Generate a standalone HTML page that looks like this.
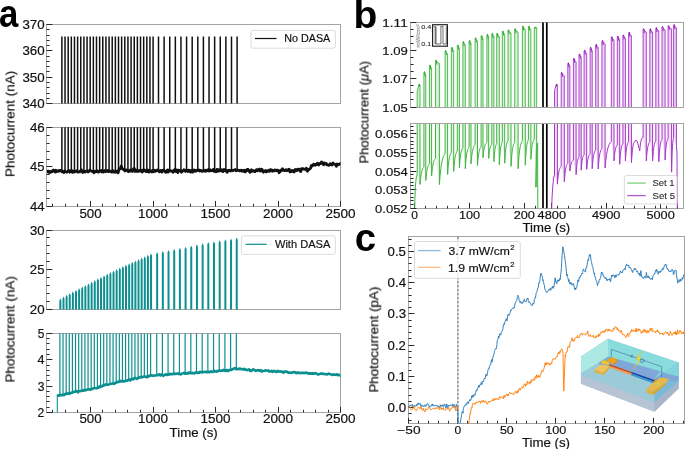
<!DOCTYPE html>
<html><head><meta charset="utf-8"><style>html,body{margin:0;padding:0;background:#fff;overflow:hidden}svg{display:block}svg text{will-change:transform}text{font-family:"Liberation Sans", sans-serif}</style></head>
<body><svg width="685" height="449" viewBox="0 0 685 449">
<rect x="46.5" y="24.5" width="294" height="79" fill="none" stroke="#a4a4a4" stroke-width="1"/>
<rect x="46.5" y="127.5" width="294" height="79" fill="none" stroke="#a4a4a4" stroke-width="1"/>
<rect x="46.5" y="230.5" width="294" height="79" fill="none" stroke="#a4a4a4" stroke-width="1"/>
<rect x="46.5" y="333.5" width="294" height="79" fill="none" stroke="#a4a4a4" stroke-width="1"/>
<path d="M46.5 103.5h5.9M46.5 77.5h5.9M46.5 50.5h5.9M46.5 24.5h5.9M46.5 98.5h3.1M46.5 93.5h3.1M46.5 87.5h3.1M46.5 82.5h3.1M46.5 71.5h3.1M46.5 66.5h3.1M46.5 61.5h3.1M46.5 56.5h3.1M46.5 45.5h3.1M46.5 40.5h3.1M46.5 35.5h3.1M46.5 29.5h3.1" stroke="#2a2a2a" stroke-width="1" fill="none"/>
<text x="22.43" y="108.1" font-size="11.9" fill="#111" stroke="#111" stroke-width="0.18" textLength="22.19" lengthAdjust="spacingAndGlyphs" >340</text>
<text x="22.43" y="81.73" font-size="11.9" fill="#111" stroke="#111" stroke-width="0.18" textLength="22.19" lengthAdjust="spacingAndGlyphs" >350</text>
<text x="22.43" y="55.37" font-size="11.9" fill="#111" stroke="#111" stroke-width="0.18" textLength="22.19" lengthAdjust="spacingAndGlyphs" >360</text>
<text x="22.43" y="29" font-size="11.9" fill="#111" stroke="#111" stroke-width="0.18" textLength="22.19" lengthAdjust="spacingAndGlyphs" >370</text>
<path d="M46.5 206.5h5.9M46.5 166.5h5.9M46.5 127.5h5.9M46.5 198.5h3.1M46.5 190.5h3.1M46.5 182.5h3.1M46.5 174.5h3.1M46.5 159.5h3.1M46.5 151.5h3.1M46.5 143.5h3.1M46.5 135.5h3.1" stroke="#2a2a2a" stroke-width="1" fill="none"/>
<text x="29.96" y="211.1" font-size="11.9" fill="#111" stroke="#111" stroke-width="0.18" textLength="14.68" lengthAdjust="spacingAndGlyphs" >44</text>
<text x="29.96" y="171.45" font-size="11.9" fill="#111" stroke="#111" stroke-width="0.18" textLength="14.47" lengthAdjust="spacingAndGlyphs" >45</text>
<text x="29.96" y="131.8" font-size="11.9" fill="#111" stroke="#111" stroke-width="0.18" textLength="14.79" lengthAdjust="spacingAndGlyphs" >46</text>
<path d="M46.5 309.5h5.9M46.5 269.5h5.9M46.5 230.5h5.9M46.5 301.5h3.1M46.5 293.5h3.1M46.5 285.5h3.1M46.5 277.5h3.1M46.5 261.5h3.1M46.5 253.5h3.1M46.5 245.5h3.1M46.5 237.5h3.1" stroke="#2a2a2a" stroke-width="1" fill="none"/>
<text x="29.86" y="314" font-size="11.9" fill="#111" stroke="#111" stroke-width="0.18" textLength="14.79" lengthAdjust="spacingAndGlyphs" >20</text>
<text x="29.87" y="274.25" font-size="11.9" fill="#111" stroke="#111" stroke-width="0.18" textLength="14.57" lengthAdjust="spacingAndGlyphs" >25</text>
<text x="30.06" y="234.5" font-size="11.9" fill="#111" stroke="#111" stroke-width="0.18" textLength="14.58" lengthAdjust="spacingAndGlyphs" >30</text>
<path d="M46.5 412.5h5.9M46.5 386.5h5.9M46.5 359.5h5.9M46.5 333.5h5.9M46.5 407.5h3.1M46.5 401.5h3.1M46.5 396.5h3.1M46.5 391.5h3.1M46.5 380.5h3.1M46.5 375.5h3.1M46.5 370.5h3.1M46.5 365.5h3.1M46.5 354.5h3.1M46.5 349.5h3.1M46.5 343.5h3.1M46.5 338.5h3.1" stroke="#2a2a2a" stroke-width="1" fill="none"/>
<text x="37.54" y="416.9" font-size="11.9" fill="#111" stroke="#111" stroke-width="0.18" textLength="6.77" lengthAdjust="spacingAndGlyphs" >2</text>
<text x="37.72" y="390.57" font-size="11.9" fill="#111" stroke="#111" stroke-width="0.18" textLength="6.73" lengthAdjust="spacingAndGlyphs" >3</text>
<text x="37.59" y="364.23" font-size="11.9" fill="#111" stroke="#111" stroke-width="0.18" textLength="6.99" lengthAdjust="spacingAndGlyphs" >4</text>
<text x="37.73" y="337.9" font-size="11.9" fill="#111" stroke="#111" stroke-width="0.18" textLength="6.63" lengthAdjust="spacingAndGlyphs" >5</text>
<path d="M90.5 206.5v-5.6M153.5 206.5v-5.6M215.5 206.5v-5.6M278.5 206.5v-5.6M340.5 206.5v-5.6M52.5 206.5v-2.7M65.5 206.5v-2.7M77.5 206.5v-2.7M102.5 206.5v-2.7M115.5 206.5v-2.7M127.5 206.5v-2.7M140.5 206.5v-2.7M165.5 206.5v-2.7M178.5 206.5v-2.7M190.5 206.5v-2.7M203.5 206.5v-2.7M228.5 206.5v-2.7M240.5 206.5v-2.7M253.5 206.5v-2.7M265.5 206.5v-2.7M290.5 206.5v-2.7M303.5 206.5v-2.7M315.5 206.5v-2.7M328.5 206.5v-2.7" stroke="#2a2a2a" stroke-width="1" fill="none"/>
<text x="79.44" y="217.6" font-size="11.9" fill="#111" stroke="#111" stroke-width="0.18" textLength="22.19" lengthAdjust="spacingAndGlyphs" >500</text>
<text x="138.07" y="217.6" font-size="11.9" fill="#111" stroke="#111" stroke-width="0.18" textLength="29.94" lengthAdjust="spacingAndGlyphs" >1000</text>
<text x="200.6" y="217.6" font-size="11.9" fill="#111" stroke="#111" stroke-width="0.18" textLength="29.94" lengthAdjust="spacingAndGlyphs" >1500</text>
<text x="263.02" y="217.6" font-size="11.9" fill="#111" stroke="#111" stroke-width="0.18" textLength="30.05" lengthAdjust="spacingAndGlyphs" >2000</text>
<text x="325.55" y="217.6" font-size="11.9" fill="#111" stroke="#111" stroke-width="0.18" textLength="30.05" lengthAdjust="spacingAndGlyphs" >2500</text>
<path d="M90.5 412.5v-5.6M153.5 412.5v-5.6M215.5 412.5v-5.6M278.5 412.5v-5.6M340.5 412.5v-5.6M52.5 412.5v-2.7M65.5 412.5v-2.7M77.5 412.5v-2.7M102.5 412.5v-2.7M115.5 412.5v-2.7M127.5 412.5v-2.7M140.5 412.5v-2.7M165.5 412.5v-2.7M178.5 412.5v-2.7M190.5 412.5v-2.7M203.5 412.5v-2.7M228.5 412.5v-2.7M240.5 412.5v-2.7M253.5 412.5v-2.7M265.5 412.5v-2.7M290.5 412.5v-2.7M303.5 412.5v-2.7M315.5 412.5v-2.7M328.5 412.5v-2.7" stroke="#2a2a2a" stroke-width="1" fill="none"/>
<text x="79.44" y="423.4" font-size="11.9" fill="#111" stroke="#111" stroke-width="0.18" textLength="22.19" lengthAdjust="spacingAndGlyphs" >500</text>
<text x="138.07" y="423.4" font-size="11.9" fill="#111" stroke="#111" stroke-width="0.18" textLength="29.94" lengthAdjust="spacingAndGlyphs" >1000</text>
<text x="200.6" y="423.4" font-size="11.9" fill="#111" stroke="#111" stroke-width="0.18" textLength="29.94" lengthAdjust="spacingAndGlyphs" >1500</text>
<text x="263.02" y="423.4" font-size="11.9" fill="#111" stroke="#111" stroke-width="0.18" textLength="30.05" lengthAdjust="spacingAndGlyphs" >2000</text>
<text x="325.55" y="423.4" font-size="11.9" fill="#111" stroke="#111" stroke-width="0.18" textLength="30.05" lengthAdjust="spacingAndGlyphs" >2500</text>
<rect x="410.5" y="22.5" width="273" height="85" fill="none" stroke="#a4a4a4" stroke-width="1"/>
<rect x="410.5" y="123.5" width="273" height="85" fill="none" stroke="#a4a4a4" stroke-width="1"/>
<path d="M410.5 107.5h5.9M410.5 78.5h5.9M410.5 50.5h5.9M410.5 22.5h5.9M410.5 99.5h3.1M410.5 92.5h3.1M410.5 85.5h3.1M410.5 71.5h3.1M410.5 64.5h3.1M410.5 57.5h3.1M410.5 43.5h3.1M410.5 36.5h3.1M410.5 29.5h3.1" stroke="#2a2a2a" stroke-width="1" fill="none"/>
<text x="382.36" y="111.5" font-size="11.54" fill="#111" stroke="#111" stroke-width="0.18" textLength="25.26" lengthAdjust="spacingAndGlyphs" >1.05</text>
<text x="382.36" y="83.3" font-size="11.54" fill="#111" stroke="#111" stroke-width="0.18" textLength="25.4" lengthAdjust="spacingAndGlyphs" >1.07</text>
<text x="382.35" y="55.1" font-size="11.54" fill="#111" stroke="#111" stroke-width="0.18" textLength="25.52" lengthAdjust="spacingAndGlyphs" >1.09</text>
<text x="382.32" y="26.9" font-size="11.54" fill="#111" stroke="#111" stroke-width="0.18" textLength="25.38" lengthAdjust="spacingAndGlyphs" >1.11</text>
<path d="M410.5 208.5h5.9M410.5 189.5h5.9M410.5 171.5h5.9M410.5 152.5h5.9M410.5 133.5h5.9M410.5 204.5h3.1M410.5 200.5h3.1M410.5 197.5h3.1M410.5 193.5h3.1M410.5 185.5h3.1M410.5 182.5h3.1M410.5 178.5h3.1M410.5 174.5h3.1M410.5 167.5h3.1M410.5 163.5h3.1M410.5 159.5h3.1M410.5 156.5h3.1M410.5 148.5h3.1M410.5 144.5h3.1M410.5 141.5h3.1M410.5 137.5h3.1M410.5 130.5h3.1M410.5 126.5h3.1" stroke="#2a2a2a" stroke-width="1" fill="none"/>
<text x="375.13" y="212.7" font-size="11.54" fill="#111" stroke="#111" stroke-width="0.18" textLength="32.46" lengthAdjust="spacingAndGlyphs" >0.052</text>
<text x="375.12" y="194.1" font-size="11.54" fill="#111" stroke="#111" stroke-width="0.18" textLength="32.6" lengthAdjust="spacingAndGlyphs" >0.053</text>
<text x="375.12" y="175.5" font-size="11.54" fill="#111" stroke="#111" stroke-width="0.18" textLength="32.7" lengthAdjust="spacingAndGlyphs" >0.054</text>
<text x="375.12" y="156.9" font-size="11.54" fill="#111" stroke="#111" stroke-width="0.18" textLength="32.5" lengthAdjust="spacingAndGlyphs" >0.055</text>
<text x="375.12" y="138.3" font-size="11.54" fill="#111" stroke="#111" stroke-width="0.18" textLength="32.81" lengthAdjust="spacingAndGlyphs" >0.056</text>
<path d="M414.5 208.5v-5.6M469.5 208.5v-5.6M524.5 208.5v-5.6M551.5 208.5v-5.6M606.5 208.5v-5.6M660.5 208.5v-5.6M425.5 208.5v-2.7M436.5 208.5v-2.7M447.5 208.5v-2.7M458.5 208.5v-2.7M480.5 208.5v-2.7M491.5 208.5v-2.7M502.5 208.5v-2.7M513.5 208.5v-2.7M535.5 208.5v-2.7M546.5 208.5v-2.7M557.5 208.5v-2.7M568.5 208.5v-2.7M579.5 208.5v-2.7M590.5 208.5v-2.7M601.5 208.5v-2.7M612.5 208.5v-2.7M623.5 208.5v-2.7M634.5 208.5v-2.7M644.5 208.5v-2.7M655.5 208.5v-2.7M666.5 208.5v-2.7M677.5 208.5v-2.7" stroke="#2a2a2a" stroke-width="1" fill="none"/>
<text x="411.25" y="218.9" font-size="11.54" fill="#111" stroke="#111" stroke-width="0.18" textLength="6.68" lengthAdjust="spacingAndGlyphs" >0</text>
<text x="458.92" y="218.9" font-size="11.54" fill="#111" stroke="#111" stroke-width="0.18" textLength="21.1" lengthAdjust="spacingAndGlyphs" >100</text>
<text x="513.65" y="218.9" font-size="11.54" fill="#111" stroke="#111" stroke-width="0.18" textLength="21.21" lengthAdjust="spacingAndGlyphs" >200</text>
<text x="537.64" y="218.9" font-size="11.54" fill="#111" stroke="#111" stroke-width="0.18" textLength="28.37" lengthAdjust="spacingAndGlyphs" >4800</text>
<text x="591.99" y="218.9" font-size="11.54" fill="#111" stroke="#111" stroke-width="0.18" textLength="28.37" lengthAdjust="spacingAndGlyphs" >4900</text>
<text x="646.43" y="218.9" font-size="11.54" fill="#111" stroke="#111" stroke-width="0.18" textLength="28.28" lengthAdjust="spacingAndGlyphs" >5000</text>
<rect x="408.5" y="236.5" width="276" height="187" fill="none" stroke="#a4a4a4" stroke-width="1"/>
<path d="M408.5 407.5h5.9M408.5 376.5h5.9M408.5 345.5h5.9M408.5 313.5h5.9M408.5 282.5h5.9M408.5 251.5h5.9M408.5 420.5h3.1M408.5 413.5h3.1M408.5 401.5h3.1M408.5 395.5h3.1M408.5 388.5h3.1M408.5 382.5h3.1M408.5 370.5h3.1M408.5 363.5h3.1M408.5 357.5h3.1M408.5 351.5h3.1M408.5 338.5h3.1M408.5 332.5h3.1M408.5 326.5h3.1M408.5 320.5h3.1M408.5 307.5h3.1M408.5 301.5h3.1M408.5 295.5h3.1M408.5 288.5h3.1M408.5 276.5h3.1M408.5 270.5h3.1M408.5 263.5h3.1M408.5 257.5h3.1M408.5 245.5h3.1M408.5 239.5h3.1" stroke="#2a2a2a" stroke-width="1" fill="none"/>
<text x="387.59" y="412.2" font-size="11.9" fill="#111" stroke="#111" stroke-width="0.18" textLength="18.53" lengthAdjust="spacingAndGlyphs" >0.0</text>
<text x="387.6" y="380.96" font-size="11.9" fill="#111" stroke="#111" stroke-width="0.18" textLength="18.35" lengthAdjust="spacingAndGlyphs" >0.1</text>
<text x="387.6" y="349.72" font-size="11.9" fill="#111" stroke="#111" stroke-width="0.18" textLength="18.26" lengthAdjust="spacingAndGlyphs" >0.2</text>
<text x="387.6" y="318.48" font-size="11.9" fill="#111" stroke="#111" stroke-width="0.18" textLength="18.41" lengthAdjust="spacingAndGlyphs" >0.3</text>
<text x="387.59" y="287.24" font-size="11.9" fill="#111" stroke="#111" stroke-width="0.18" textLength="18.51" lengthAdjust="spacingAndGlyphs" >0.4</text>
<text x="387.6" y="256" font-size="11.9" fill="#111" stroke="#111" stroke-width="0.18" textLength="18.31" lengthAdjust="spacingAndGlyphs" >0.5</text>
<path d="M408.5 423.5v-5.6M457.5 423.5v-5.6M506.5 423.5v-5.6M555.5 423.5v-5.6M604.5 423.5v-5.6M653.5 423.5v-5.6M418.5 423.5v-2.7M428.5 423.5v-2.7M438.5 423.5v-2.7M448.5 423.5v-2.7M467.5 423.5v-2.7M477.5 423.5v-2.7M487.5 423.5v-2.7M497.5 423.5v-2.7M516.5 423.5v-2.7M526.5 423.5v-2.7M536.5 423.5v-2.7M546.5 423.5v-2.7M565.5 423.5v-2.7M575.5 423.5v-2.7M585.5 423.5v-2.7M595.5 423.5v-2.7M614.5 423.5v-2.7M624.5 423.5v-2.7M634.5 423.5v-2.7M644.5 423.5v-2.7M663.5 423.5v-2.7M673.5 423.5v-2.7M683.5 423.5v-2.7" stroke="#2a2a2a" stroke-width="1" fill="none"/>
<text x="397.33" y="433.7" font-size="11.54" fill="#111" stroke="#111" stroke-width="0.18" textLength="23.24" lengthAdjust="spacingAndGlyphs" >−50</text>
<text x="454.45" y="433.7" font-size="11.54" fill="#111" stroke="#111" stroke-width="0.18" textLength="6.68" lengthAdjust="spacingAndGlyphs" >0</text>
<text x="499.96" y="433.7" font-size="11.54" fill="#111" stroke="#111" stroke-width="0.18" textLength="13.82" lengthAdjust="spacingAndGlyphs" >50</text>
<text x="545.27" y="433.7" font-size="11.54" fill="#111" stroke="#111" stroke-width="0.18" textLength="21.1" lengthAdjust="spacingAndGlyphs" >100</text>
<text x="594.27" y="433.7" font-size="11.54" fill="#111" stroke="#111" stroke-width="0.18" textLength="21.1" lengthAdjust="spacingAndGlyphs" >150</text>
<text x="643.15" y="433.7" font-size="11.54" fill="#111" stroke="#111" stroke-width="0.18" textLength="21.21" lengthAdjust="spacingAndGlyphs" >200</text>
<text transform="translate(14.5,176.1) rotate(-90)" x="-1.11" y="0" font-size="12.3" fill="#111" stroke="#111" stroke-width="0.18" textLength="106.46" lengthAdjust="spacingAndGlyphs">Photocurrent (nA)</text>
<text transform="translate(14.5,381.6) rotate(-90)" x="-1.11" y="0" font-size="12.3" fill="#111" stroke="#111" stroke-width="0.18" textLength="106.66" lengthAdjust="spacingAndGlyphs">Photocurrent (nA)</text>
<text transform="translate(368.5,162.6) rotate(-90)" x="-1.07" y="0" font-size="12.3" fill="#111" stroke="#111" stroke-width="0.18" textLength="102.79" lengthAdjust="spacingAndGlyphs">Photocurrent (<tspan font-style="italic">μ</tspan>A)</text>
<text transform="translate(378.3,391.6) rotate(-90)" x="-1.11" y="0" font-size="12.3" fill="#111" stroke="#111" stroke-width="0.18" textLength="106.15" lengthAdjust="spacingAndGlyphs">Photocurrent (pA)</text>
<text x="169.6" y="436.9" font-size="12.3" fill="#111" stroke="#111" stroke-width="0.18" textLength="48.15" lengthAdjust="spacingAndGlyphs" >Time (s)</text>
<text x="522.6" y="232.1" font-size="12.3" fill="#111" stroke="#111" stroke-width="0.18" textLength="47.64" lengthAdjust="spacingAndGlyphs" >Time (s)</text>
<text x="521.9" y="447.3" font-size="12.3" fill="#111" stroke="#111" stroke-width="0.18" textLength="48.15" lengthAdjust="spacingAndGlyphs" >Time (s)</text>
<text x="-1.04" y="26.8" font-size="39.5" font-weight="bold" fill="#000" stroke="#000" stroke-width="0" textLength="19.32" lengthAdjust="spacingAndGlyphs" >a</text>
<text x="353.46" y="27.7" font-size="38.5" font-weight="bold" fill="#000" stroke="#000" stroke-width="0" textLength="23.83" lengthAdjust="spacingAndGlyphs" >b</text>
<text x="354.77" y="251" font-size="38.5" font-weight="bold" fill="#000" stroke="#000" stroke-width="0" textLength="21.33" lengthAdjust="spacingAndGlyphs" >c</text>
<defs>
<clipPath id="ca0"><rect x="46.7" y="24.5" width="293.90000000000003" height="79.1"/></clipPath>
<clipPath id="ca1"><rect x="46.7" y="127.3" width="293.90000000000003" height="79.3"/></clipPath>
<clipPath id="ca2"><rect x="46.7" y="230.0" width="293.90000000000003" height="79.5"/></clipPath>
<clipPath id="ca3"><rect x="46.7" y="333.4" width="293.90000000000003" height="79.0"/></clipPath>
<clipPath id="cb1"><rect x="410.1" y="22.4" width="273.1" height="84.6"/></clipPath>
<clipPath id="cb2"><rect x="410.1" y="123.9" width="273.1" height="84.19999999999999"/></clipPath>
<clipPath id="cc"><rect x="408.4" y="236.2" width="275.70000000000005" height="187.10000000000002"/></clipPath>
</defs>
<path d="M61.90 110V36.4M65.04 110V36.4M68.19 110V36.4M71.33 110V36.4M74.48 110V36.4M77.62 110V36.4M80.77 110V36.4M83.91 110V36.4M87.06 110V36.4M90.20 110V36.4M93.35 110V36.4M96.49 110V36.4M99.64 110V36.4M102.78 110V36.4M105.93 110V36.4M109.07 110V36.4M112.22 110V36.4M115.36 110V36.4M118.51 110V36.4M121.65 110V36.4M124.80 110V36.4M127.94 110V36.4M131.09 110V36.4M134.23 110V36.4M137.38 110V36.4M140.52 110V36.4M143.67 110V36.4M146.81 110V36.4M149.96 110V36.4M153.10 110V36.4M158.50 110V36.4M164.11 110V36.4M169.73 110V36.4M175.34 110V36.4M180.96 110V36.4M186.57 110V36.4M192.19 110V36.4M197.80 110V36.4M203.41 110V36.4M209.03 110V36.4M214.64 110V36.4M220.26 110V36.4M225.87 110V36.4M231.49 110V36.4M237.10 110V36.4" stroke="#111111" stroke-width="1.5" fill="none" clip-path="url(#ca0)"/>
<path d="M46.70 171.99 L47.05 172.00 L47.40 171.56 L47.75 171.15 L48.10 171.06 L48.45 171.19 L48.80 172.04 L49.15 172.57 L49.50 171.82 L49.85 171.53 L50.20 172.11 L50.55 172.29 L50.90 171.79 L51.25 171.36 L51.60 171.81 L51.95 171.91 L52.30 171.16 L52.65 170.65 L53.00 170.24 L53.35 170.00 L53.70 170.34 L54.05 170.83 L54.40 171.15 L54.75 171.73 L55.10 172.02 L55.45 171.08 L55.80 170.17 L56.15 170.81 L56.50 171.74 L56.85 171.49 L57.20 170.87 L57.55 170.86 L57.90 170.93 L58.25 171.17 L58.60 171.41 L58.95 170.71 L59.30 170.52 L59.65 170.57 L60.00 170.28 L60.35 170.37 L60.70 170.80 L61.05 170.63 L61.40 170.41 L61.75 171.36 L62.10 171.77 L62.45 171.14 L62.80 171.49 L63.15 171.54 L63.50 171.66 L63.85 172.65 L64.20 172.11 L64.55 170.94 L64.90 171.27 L65.25 171.73 L65.60 171.68 L65.95 171.75 L66.30 171.79 L66.65 172.24 L67.00 172.29 L67.35 171.52 L67.70 171.21 L68.05 171.25 L68.40 171.01 L68.75 170.59 L69.10 170.67 L69.45 171.42 L69.80 172.27 L70.15 172.00 L70.50 170.76 L70.85 170.77 L71.20 171.00 L71.55 170.31 L71.90 170.55 L72.25 171.63 L72.60 172.39 L72.95 172.15 L73.30 171.36 L73.65 171.07 L74.00 171.66 L74.35 172.18 L74.70 171.58 L75.05 171.26 L75.40 171.55 L75.75 171.45 L76.10 170.99 L76.45 170.74 L76.80 171.00 L77.15 171.56 L77.50 172.24 L77.85 172.22 L78.20 171.87 L78.55 171.78 L78.90 171.80 L79.25 172.02 L79.60 171.98 L79.95 171.46 L80.30 171.00 L80.65 170.81 L81.00 169.98 L81.35 169.68 L81.70 170.44 L82.05 170.92 L82.40 172.01 L82.75 172.66 L83.10 171.50 L83.45 170.95 L83.80 171.60 L84.15 171.82 L84.50 171.50 L84.85 171.55 L85.20 172.04 L85.55 171.74 L85.90 171.04 L86.25 171.18 L86.60 171.21 L86.95 170.99 L87.30 171.12 L87.65 171.39 L88.00 171.92 L88.35 171.97 L88.70 171.47 L89.05 171.18 L89.40 170.70 L89.75 169.97 L90.10 170.38 L90.45 170.79 L90.80 170.64 L91.15 170.90 L91.50 170.99 L91.85 171.23 L92.20 171.51 L92.55 171.81 L92.90 171.41 L93.25 171.06 L93.60 172.29 L93.95 172.79 L94.30 171.88 L94.65 171.34 L95.00 171.10 L95.35 171.27 L95.70 171.78 L96.05 171.57 L96.40 171.15 L96.75 170.90 L97.10 170.59 L97.45 171.01 L97.80 171.91 L98.15 172.16 L98.50 172.13 L98.85 171.68 L99.20 171.09 L99.55 171.03 L99.90 171.17 L100.25 171.32 L100.60 171.27 L100.95 170.87 L101.30 170.41 L101.65 171.16 L102.00 172.10 L102.35 171.33 L102.70 170.81 L103.05 171.84 L103.40 172.03 L103.75 171.00 L104.10 170.76 L104.45 170.53 L104.80 170.47 L105.15 171.39 L105.50 171.71 L105.85 171.28 L106.20 171.17 L106.55 171.34 L106.90 171.22 L107.25 170.86 L107.60 170.36 L107.95 170.76 L108.30 171.70 L108.65 171.59 L109.00 171.41 L109.35 171.33 L109.70 170.96 L110.05 171.13 L110.40 171.50 L110.75 171.32 L111.10 171.18 L111.45 171.67 L111.80 172.25 L112.15 172.21 L112.50 171.59 L112.85 170.68 L113.20 170.59 L113.55 171.74 L113.90 172.11 L114.25 171.65 L114.60 171.79 L114.95 172.15 L115.30 172.27 L115.65 171.92 L116.00 171.70 L116.35 171.63 L116.70 171.19 L117.05 171.51 L117.40 172.03 L117.75 172.44 L118.10 172.93 L118.45 171.86 L118.80 169.65 L119.15 168.94 L119.50 169.38 L119.85 168.98 L120.20 168.89 L120.55 168.52 L120.90 166.71 L121.25 165.96 L121.60 166.74 L121.95 167.89 L122.30 168.40 L122.65 168.88 L123.00 168.89 L123.35 169.30 L123.70 169.96 L124.05 169.68 L124.40 169.68 L124.75 170.60 L125.10 171.04 L125.45 170.74 L125.80 170.14 L126.15 169.82 L126.50 169.75 L126.85 170.04 L127.20 170.43 L127.55 170.51 L127.90 170.90 L128.25 171.74 L128.60 171.72 L128.95 170.86 L129.30 170.91 L129.65 171.03 L130.00 170.35 L130.35 169.81 L130.70 170.34 L131.05 171.11 L131.40 171.03 L131.75 170.77 L132.10 171.03 L132.45 171.43 L132.80 170.51 L133.15 169.30 L133.50 169.17 L133.85 168.47 L134.20 168.14 L134.55 169.95 L134.90 171.50 L135.25 170.92 L135.60 169.87 L135.95 170.27 L136.30 171.29 L136.65 171.29 L137.00 170.91 L137.35 170.84 L137.70 171.10 L138.05 171.51 L138.40 171.49 L138.75 170.84 L139.10 170.45 L139.45 170.64 L139.80 170.93 L140.15 170.93 L140.50 170.38 L140.85 170.40 L141.20 170.42 L141.55 170.58 L141.90 171.94 L142.25 172.12 L142.60 171.26 L142.95 171.31 L143.30 170.54 L143.65 169.49 L144.00 170.22 L144.35 170.94 L144.70 170.58 L145.05 170.17 L145.40 170.34 L145.75 171.05 L146.10 171.64 L146.45 171.44 L146.80 171.44 L147.15 171.63 L147.50 170.89 L147.85 169.94 L148.20 170.15 L148.55 171.57 L148.90 172.21 L149.25 171.93 L149.60 171.60 L149.95 171.23 L150.30 170.98 L150.65 170.75 L151.00 170.72 L151.35 171.32 L151.70 171.99 L152.05 171.67 L152.40 170.86 L152.75 170.35 L153.10 170.83 L153.45 171.83 L153.80 171.71 L154.15 171.00 L154.50 170.39 L154.85 170.12 L155.20 170.80 L155.55 171.30 L155.90 170.87 L156.25 170.60 L156.60 170.75 L156.95 170.44 L157.30 169.93 L157.65 170.05 L158.00 170.60 L158.35 170.97 L158.70 170.90 L159.05 171.50 L159.40 171.92 L159.75 171.02 L160.10 170.53 L160.45 170.86 L160.80 170.69 L161.15 170.47 L161.50 171.52 L161.85 172.21 L162.20 171.33 L162.55 170.43 L162.90 170.35 L163.25 170.44 L163.60 169.96 L163.95 170.29 L164.30 171.11 L164.65 171.11 L165.00 171.78 L165.35 172.26 L165.70 171.73 L166.05 171.95 L166.40 172.23 L166.75 171.24 L167.10 170.13 L167.45 169.98 L167.80 171.02 L168.15 172.15 L168.50 171.70 L168.85 170.43 L169.20 170.01 L169.55 170.49 L169.90 170.93 L170.25 170.99 L170.60 171.12 L170.95 171.12 L171.30 170.87 L171.65 170.92 L172.00 171.06 L172.35 171.14 L172.70 171.81 L173.05 172.43 L173.40 171.91 L173.75 170.68 L174.10 170.10 L174.45 170.12 L174.80 169.51 L175.15 169.81 L175.50 171.29 L175.85 171.62 L176.20 170.60 L176.55 169.81 L176.90 170.05 L177.25 170.66 L177.60 171.85 L177.95 172.60 L178.30 171.57 L178.65 170.24 L179.00 170.04 L179.35 170.56 L179.70 170.53 L180.05 170.29 L180.40 170.38 L180.75 170.68 L181.10 171.64 L181.45 172.29 L181.80 171.82 L182.15 171.19 L182.50 171.12 L182.85 170.95 L183.20 170.62 L183.55 170.28 L183.90 169.67 L184.25 169.97 L184.60 170.97 L184.95 171.17 L185.30 171.36 L185.65 171.13 L186.00 170.01 L186.35 170.04 L186.70 170.97 L187.05 171.15 L187.40 171.18 L187.75 171.55 L188.10 171.05 L188.45 170.03 L188.80 170.29 L189.15 171.32 L189.50 170.92 L189.85 170.38 L190.20 171.39 L190.55 172.14 L190.90 171.84 L191.25 171.05 L191.60 170.34 L191.95 170.96 L192.30 172.10 L192.65 172.10 L193.00 171.67 L193.35 171.10 L193.70 170.36 L194.05 169.89 L194.40 170.52 L194.75 171.06 L195.10 170.82 L195.45 171.32 L195.80 171.17 L196.15 170.28 L196.50 170.20 L196.85 170.51 L197.20 170.62 L197.55 170.37 L197.90 170.20 L198.25 170.21 L198.60 169.85 L198.95 169.85 L199.30 170.79 L199.65 171.00 L200.00 170.29 L200.35 170.29 L200.70 170.26 L201.05 170.41 L201.40 171.00 L201.75 171.33 L202.10 171.45 L202.45 171.03 L202.80 170.86 L203.15 170.69 L203.50 170.59 L203.85 171.01 L204.20 171.20 L204.55 171.23 L204.90 170.76 L205.25 170.23 L205.60 170.56 L205.95 171.21 L206.30 171.24 L206.65 170.66 L207.00 170.11 L207.35 170.07 L207.70 170.47 L208.05 169.92 L208.40 169.49 L208.75 170.67 L209.10 171.11 L209.45 170.01 L209.80 169.58 L210.15 169.80 L210.50 170.13 L210.85 170.56 L211.20 170.32 L211.55 170.41 L211.90 170.82 L212.25 170.76 L212.60 170.65 L212.95 170.09 L213.30 169.34 L213.65 170.00 L214.00 171.37 L214.35 171.34 L214.70 170.94 L215.05 171.00 L215.40 171.00 L215.75 171.55 L216.10 171.75 L216.45 170.38 L216.80 169.35 L217.15 169.42 L217.50 170.01 L217.85 171.19 L218.20 171.32 L218.55 170.14 L218.90 169.66 L219.25 170.68 L219.60 170.77 L219.95 169.77 L220.30 170.03 L220.65 170.71 L221.00 170.86 L221.35 170.46 L221.70 169.93 L222.05 169.60 L222.40 170.26 L222.75 171.66 L223.10 171.66 L223.45 170.62 L223.80 169.66 L224.15 169.36 L224.50 170.06 L224.85 170.71 L225.20 170.78 L225.55 170.45 L225.90 170.15 L226.25 170.48 L226.60 171.21 L226.95 172.19 L227.30 172.33 L227.65 171.11 L228.00 170.34 L228.35 170.41 L228.70 170.25 L229.05 170.21 L229.40 170.29 L229.75 170.40 L230.10 170.88 L230.45 171.05 L230.80 170.92 L231.15 170.60 L231.50 170.08 L231.85 169.99 L232.20 170.26 L232.55 170.52 L232.90 170.82 L233.25 170.51 L233.60 170.05 L233.95 170.07 L234.30 169.87 L234.65 169.98 L235.00 169.86 L235.35 169.54 L235.70 170.32 L236.05 170.91 L236.40 170.66 L236.75 170.42 L237.10 170.19 L237.45 170.06 L237.80 170.21 L238.15 170.45 L238.50 170.36 L238.85 170.21 L239.20 170.65 L239.55 170.94 L239.90 170.66 L240.25 170.69 L240.60 170.53 L240.95 170.13 L241.30 170.67 L241.65 171.19 L242.00 171.18 L242.35 170.94 L242.70 170.47 L243.05 170.66 L243.40 171.25 L243.75 171.33 L244.10 170.62 L244.45 170.13 L244.80 171.03 L245.15 171.98 L245.50 171.84 L245.85 170.79 L246.20 170.23 L246.55 170.86 L246.90 170.24 L247.25 169.36 L247.60 169.83 L247.95 169.63 L248.30 169.39 L248.65 170.42 L249.00 171.26 L249.35 171.04 L249.70 171.38 L250.05 172.41 L250.40 172.25 L250.75 171.13 L251.10 170.23 L251.45 169.75 L251.80 170.11 L252.15 170.94 L252.50 171.17 L252.85 171.25 L253.20 171.16 L253.55 170.58 L253.90 170.71 L254.25 171.35 L254.60 171.64 L254.95 171.68 L255.30 171.20 L255.65 170.77 L256.00 170.55 L256.35 169.74 L256.70 169.61 L257.05 170.56 L257.40 170.94 L257.75 170.37 L258.10 169.67 L258.45 169.79 L258.80 169.97 L259.15 169.32 L259.50 168.97 L259.85 170.07 L260.20 171.23 L260.55 170.99 L260.90 170.42 L261.25 170.70 L261.60 170.28 L261.95 169.19 L262.30 169.91 L262.65 171.14 L263.00 171.73 L263.35 172.21 L263.70 171.92 L264.05 171.25 L264.40 171.14 L264.75 171.02 L265.10 170.52 L265.45 170.70 L265.80 171.73 L266.15 172.00 L266.50 171.08 L266.85 170.58 L267.20 171.10 L267.55 171.45 L267.90 171.41 L268.25 171.16 L268.60 170.38 L268.95 170.11 L269.30 170.63 L269.65 171.29 L270.00 170.97 L270.35 169.69 L270.70 169.65 L271.05 170.28 L271.40 169.79 L271.75 169.74 L272.10 170.85 L272.45 171.29 L272.80 170.83 L273.15 170.69 L273.50 170.92 L273.85 171.01 L274.20 170.82 L274.55 170.03 L274.90 169.78 L275.25 170.15 L275.60 170.34 L275.95 170.76 L276.30 170.57 L276.65 170.03 L277.00 170.14 L277.35 170.56 L277.70 170.72 L278.05 170.23 L278.40 170.37 L278.75 171.72 L279.10 172.76 L279.45 172.34 L279.80 171.15 L280.15 171.05 L280.50 171.38 L280.85 170.52 L281.20 169.84 L281.55 170.33 L281.90 170.47 L282.25 169.56 L282.60 168.74 L282.95 169.25 L283.30 170.14 L283.65 170.10 L284.00 170.14 L284.35 170.66 L284.70 170.72 L285.05 170.51 L285.40 170.31 L285.75 169.88 L286.10 169.58 L286.45 169.98 L286.80 170.72 L287.15 170.46 L287.50 169.79 L287.85 169.85 L288.20 170.31 L288.55 170.21 L288.90 169.27 L289.25 169.11 L289.60 170.55 L289.95 172.01 L290.30 171.62 L290.65 170.75 L291.00 171.32 L291.35 171.68 L291.70 170.67 L292.05 170.37 L292.40 171.06 L292.75 171.15 L293.10 170.68 L293.45 170.75 L293.80 171.79 L294.15 172.04 L294.50 171.32 L294.85 170.23 L295.20 169.44 L295.55 169.97 L295.90 170.45 L296.25 170.65 L296.60 170.68 L296.95 169.73 L297.30 169.23 L297.65 169.72 L298.00 169.79 L298.35 169.62 L298.70 169.65 L299.05 169.13 L299.40 169.08 L299.75 170.32 L300.10 171.04 L300.45 171.48 L300.80 171.62 L301.15 170.11 L301.50 168.66 L301.85 168.51 L302.20 168.76 L302.55 169.22 L302.90 169.11 L303.25 168.69 L303.60 168.87 L303.95 168.96 L304.30 169.32 L304.65 169.51 L305.00 169.29 L305.35 169.19 L305.70 168.91 L306.05 168.36 L306.40 168.14 L306.75 169.33 L307.10 170.95 L307.45 171.35 L307.80 170.76 L308.15 169.73 L308.50 169.31 L308.85 169.67 L309.20 169.35 L309.55 168.78 L309.90 168.71 L310.25 168.67 L310.60 168.25 L310.95 166.98 L311.30 165.67 L311.65 165.57 L312.00 166.21 L312.35 165.50 L312.70 164.88 L313.05 165.30 L313.40 165.04 L313.75 164.23 L314.10 164.52 L314.45 165.23 L314.80 165.09 L315.15 165.19 L315.50 165.29 L315.85 164.56 L316.20 164.12 L316.55 164.55 L316.90 164.49 L317.25 163.37 L317.60 163.11 L317.95 163.89 L318.30 164.56 L318.65 165.05 L319.00 164.55 L319.35 163.63 L319.70 163.75 L320.05 163.64 L320.40 163.39 L320.75 163.50 L321.10 162.57 L321.45 161.88 L321.80 162.15 L322.15 162.24 L322.50 162.82 L322.85 163.78 L323.20 164.53 L323.55 164.85 L323.90 163.87 L324.25 162.87 L324.60 162.99 L324.95 163.14 L325.30 163.51 L325.65 164.20 L326.00 163.75 L326.35 163.42 L326.70 164.37 L327.05 164.82 L327.40 164.78 L327.75 164.92 L328.10 164.97 L328.45 165.12 L328.80 165.41 L329.15 165.26 L329.50 165.00 L329.85 164.43 L330.20 163.69 L330.55 163.87 L330.90 164.33 L331.25 164.11 L331.60 164.20 L331.95 165.06 L332.30 164.63 L332.65 163.23 L333.00 162.95 L333.35 163.71 L333.70 164.05 L334.05 163.98 L334.40 164.10 L334.75 164.31 L335.10 164.47 L335.45 164.32 L335.80 164.70 L336.15 166.04 L336.50 166.28 L336.85 164.82 L337.20 164.00 L337.55 164.48 L337.90 164.81 L338.25 164.38 L338.60 164.38 L338.95 164.62 L339.30 164.24 L339.65 164.16 L340.00 164.02 L340.35 163.43 L340.70 163.68 L341.05 164.62" stroke="#111111" stroke-width="2.7" fill="none" stroke-linejoin="round" clip-path="url(#ca1)"/>
<path d="M61.90 171.33V120M65.04 171.42V120M68.19 171.43V120M71.33 171.45V120M74.48 171.47V120M77.62 171.48V120M80.77 171.50V120M83.91 171.52V120M87.06 171.53V120M90.20 171.55V120M93.35 171.56V120M96.49 171.58V120M99.64 171.60V120M102.78 171.54V120M105.93 171.47V120M109.07 171.40V120M112.22 171.33V120M115.36 171.26V120M118.51 170.69V120M121.65 167.30V120M124.80 170.80V120M127.94 170.82V120M131.09 170.83V120M134.23 170.84V120M137.38 170.85V120M140.52 170.86V120M143.67 170.87V120M146.81 170.88V120M149.96 170.89V120M153.10 170.90V120M158.50 170.92V120M164.11 170.94V120M169.73 170.96V120M175.34 170.98V120M180.96 171.00V120M186.57 170.98V120M192.19 170.97V120M197.80 170.95V120M203.41 170.93V120M209.03 170.92V120M214.64 170.90V120M220.26 170.88V120M225.87 170.87V120M231.49 170.85V120M237.10 170.84V120" stroke="#111111" stroke-width="1.5" fill="none" clip-path="url(#ca1)"/>
<path d="M59.90 315V300.80L60.30 299.60L60.80 300.60V315M63.03 315V299.08L63.43 297.88L63.93 298.88V315M66.16 315V297.36L66.56 296.16L67.06 297.16V315M69.28 315V295.64L69.68 294.44L70.18 295.44V315M72.41 315V293.91L72.81 292.71L73.31 293.71V315M75.54 315V292.32L75.94 291.12L76.44 292.12V315M78.67 315V290.74L79.07 289.54L79.57 290.54V315M81.79 315V289.17L82.19 287.97L82.69 288.97V315M84.92 315V287.59L85.32 286.39L85.82 287.39V315M88.05 315V285.93L88.45 284.73L88.95 285.73V315M91.18 315V284.25L91.58 283.05L92.08 284.05V315M94.30 315V282.58L94.70 281.38L95.20 282.38V315M97.43 315V280.90L97.83 279.70L98.33 280.70V315M100.56 315V279.32L100.96 278.12L101.46 279.12V315M103.69 315V277.76L104.09 276.56L104.59 277.56V315M106.81 315V276.19L107.21 274.99L107.71 275.99V315M109.94 315V274.63L110.34 273.43L110.84 274.43V315M113.07 315V273.07L113.47 271.87L113.97 272.87V315M116.20 315V271.60L116.60 270.40L117.10 271.40V315M119.32 315V270.14L119.72 268.94L120.22 269.94V315M122.45 315V268.69L122.85 267.49L123.35 268.49V315M125.58 315V267.24L125.98 266.04L126.48 267.04V315M128.71 315V265.83L129.11 264.63L129.61 265.63V315M131.83 315V264.42L132.23 263.22L132.73 264.22V315M134.96 315V263.02L135.36 261.82L135.86 262.82V315M138.09 315V261.61L138.49 260.41L138.99 261.41V315M141.22 315V260.21L141.62 259.01L142.12 260.01V315M144.34 315V258.79L144.74 257.59L145.24 258.59V315M147.47 315V257.38L147.87 256.18L148.37 257.18V315M150.60 315V255.96L151.00 254.76L151.50 255.76V315M156.70 315V254.62L157.10 253.42L157.60 254.42V315M162.39 315V253.56L162.79 252.36L163.29 253.36V315M168.07 315V252.51L168.47 251.31L168.97 252.31V315M173.76 315V251.46L174.16 250.26L174.66 251.26V315M179.44 315V250.40L179.84 249.20L180.34 250.20V315M185.13 315V249.26L185.53 248.06L186.03 249.06V315M190.81 315V248.11L191.21 246.91L191.71 247.91V315M196.50 315V246.96L196.90 245.76L197.40 246.76V315M202.19 315V245.81L202.59 244.61L203.09 245.61V315M207.87 315V244.67L208.27 243.47L208.77 244.47V315M213.56 315V243.78L213.96 242.58L214.46 243.58V315M219.24 315V242.88L219.64 241.68L220.14 242.68V315M224.93 315V241.99L225.33 240.79L225.83 241.79V315M230.61 315V241.09L231.01 239.89L231.51 240.89V315M236.30 315V240.20L236.70 239.00L237.20 240.00V315" stroke="#0b8f8f" stroke-width="1.1" fill="none" clip-path="url(#ca2)"/>
<path d="M57.3 413V396" stroke="#0b8f8f" stroke-width="1.1" clip-path="url(#ca3)"/>
<path d="M57.30 396.00 L57.65 395.58 L58.00 395.29 L58.35 395.46 L58.70 395.87 L59.05 395.84 L59.40 395.42 L59.75 395.30 L60.10 395.22 L60.45 395.01 L60.80 394.63 L61.15 394.94 L61.50 395.24 L61.85 395.43 L62.20 395.06 L62.55 395.01 L62.90 394.69 L63.25 394.57 L63.60 394.79 L63.95 395.12 L64.30 394.87 L64.65 394.24 L65.00 394.11 L65.35 394.36 L65.70 394.25 L66.05 393.69 L66.40 393.27 L66.75 393.36 L67.10 393.63 L67.45 393.84 L67.80 393.88 L68.15 393.86 L68.50 393.38 L68.85 393.28 L69.20 393.54 L69.55 393.87 L69.90 393.60 L70.25 393.13 L70.60 393.22 L70.95 393.03 L71.30 392.73 L71.65 392.46 L72.00 392.71 L72.35 392.58 L72.70 392.40 L73.05 392.18 L73.40 392.16 L73.75 392.02 L74.10 391.77 L74.45 391.60 L74.80 391.76 L75.15 391.76 L75.50 391.53 L75.85 391.46 L76.20 391.45 L76.55 391.36 L76.90 391.07 L77.25 391.34 L77.60 391.80 L77.95 392.37 L78.30 392.05 L78.65 391.58 L79.00 391.24 L79.35 391.21 L79.70 391.30 L80.05 391.07 L80.40 391.01 L80.75 390.81 L81.10 391.18 L81.45 391.06 L81.80 390.82 L82.15 390.51 L82.50 390.61 L82.85 390.71 L83.20 390.65 L83.55 390.40 L83.90 389.89 L84.25 389.81 L84.60 390.16 L84.95 390.51 L85.30 390.27 L85.65 390.27 L86.00 390.16 L86.35 389.88 L86.70 389.59 L87.05 389.86 L87.40 389.77 L87.75 389.81 L88.10 389.58 L88.45 389.46 L88.80 389.39 L89.15 389.58 L89.50 389.40 L89.85 388.99 L90.20 389.17 L90.55 389.64 L90.90 389.59 L91.25 389.31 L91.60 389.18 L91.95 389.06 L92.30 388.86 L92.65 388.69 L93.00 388.58 L93.35 388.30 L93.70 388.22 L94.05 388.26 L94.40 388.14 L94.75 387.91 L95.10 388.02 L95.45 388.15 L95.80 388.23 L96.15 388.19 L96.50 388.17 L96.85 388.28 L97.20 387.92 L97.55 387.67 L97.90 387.20 L98.25 387.52 L98.60 387.71 L98.95 387.30 L99.30 386.48 L99.65 386.25 L100.00 386.74 L100.35 386.95 L100.70 386.72 L101.05 386.51 L101.40 386.42 L101.75 386.33 L102.10 386.29 L102.45 385.73 L102.80 385.56 L103.15 385.27 L103.50 385.64 L103.85 385.51 L104.20 385.36 L104.55 385.12 L104.90 384.97 L105.25 384.79 L105.60 384.34 L105.95 384.36 L106.30 384.60 L106.65 385.03 L107.00 384.96 L107.35 384.92 L107.70 384.74 L108.05 384.61 L108.40 384.44 L108.75 384.60 L109.10 384.51 L109.45 384.21 L109.80 383.92 L110.15 383.93 L110.50 383.75 L110.85 383.83 L111.20 383.79 L111.55 383.87 L111.90 383.52 L112.25 383.51 L112.60 383.49 L112.95 383.49 L113.30 383.67 L113.65 383.74 L114.00 383.96 L114.35 383.78 L114.70 383.47 L115.05 382.91 L115.40 382.76 L115.75 382.87 L116.10 382.85 L116.45 382.65 L116.80 382.22 L117.15 382.00 L117.50 381.68 L117.85 381.88 L118.20 381.87 L118.55 382.00 L118.90 381.82 L119.25 381.96 L119.60 381.79 L119.95 381.34 L120.30 381.00 L120.65 380.86 L121.00 380.87 L121.35 381.34 L121.70 381.60 L122.05 381.65 L122.40 381.14 L122.75 381.19 L123.10 381.04 L123.45 381.16 L123.80 381.14 L124.15 381.48 L124.50 381.52 L124.85 381.27 L125.20 380.69 L125.55 380.62 L125.90 380.57 L126.25 380.77 L126.60 380.64 L126.95 380.87 L127.30 380.39 L127.65 380.05 L128.00 379.92 L128.35 380.20 L128.70 379.96 L129.05 379.65 L129.40 379.42 L129.75 379.44 L130.10 379.94 L130.45 380.46 L130.80 380.08 L131.15 379.27 L131.50 378.93 L131.85 379.26 L132.20 379.28 L132.55 379.04 L132.90 378.95 L133.25 379.27 L133.60 379.25 L133.95 378.74 L134.30 378.18 L134.65 378.02 L135.00 377.79 L135.35 378.04 L135.70 378.15 L136.05 378.48 L136.40 378.67 L136.75 379.00 L137.10 378.59 L137.45 378.21 L137.80 378.26 L138.15 378.29 L138.50 377.78 L138.85 377.48 L139.20 377.31 L139.55 377.59 L139.90 377.30 L140.25 377.09 L140.60 376.79 L140.95 377.17 L141.30 377.33 L141.65 377.39 L142.00 377.33 L142.35 377.41 L142.70 377.00 L143.05 376.77 L143.40 376.50 L143.75 376.81 L144.10 376.83 L144.45 376.74 L144.80 376.47 L145.15 376.52 L145.50 376.77 L145.85 376.67 L146.20 376.77 L146.55 377.22 L146.90 377.03 L147.25 376.43 L147.60 376.50 L147.95 376.98 L148.30 376.79 L148.65 376.21 L149.00 375.88 L149.35 375.71 L149.70 375.61 L150.05 375.76 L150.40 375.78 L150.75 375.71 L151.10 375.33 L151.45 375.32 L151.80 375.28 L152.15 375.39 L152.50 375.61 L152.85 375.88 L153.20 375.94 L153.55 375.80 L153.90 375.71 L154.25 375.56 L154.60 375.40 L154.95 375.49 L155.30 375.36 L155.65 375.52 L156.00 375.51 L156.35 375.47 L156.70 375.07 L157.05 374.93 L157.40 375.06 L157.75 375.04 L158.10 375.30 L158.45 375.21 L158.80 374.79 L159.15 374.34 L159.50 374.19 L159.85 374.49 L160.20 374.91 L160.55 375.43 L160.90 375.14 L161.25 374.67 L161.60 374.88 L161.95 375.31 L162.30 375.34 L162.65 375.16 L163.00 375.59 L163.35 375.88 L163.70 375.62 L164.05 375.15 L164.40 375.01 L164.75 374.87 L165.10 374.52 L165.45 374.36 L165.80 374.35 L166.15 374.44 L166.50 374.48 L166.85 375.05 L167.20 375.02 L167.55 374.77 L167.90 374.34 L168.25 374.54 L168.60 374.76 L168.95 374.72 L169.30 374.37 L169.65 373.84 L170.00 373.69 L170.35 373.96 L170.70 374.32 L171.05 374.25 L171.40 374.00 L171.75 374.02 L172.10 374.29 L172.45 374.26 L172.80 374.12 L173.15 373.70 L173.50 373.48 L173.85 373.83 L174.20 373.91 L174.55 373.80 L174.90 373.64 L175.25 373.97 L175.60 373.83 L175.95 373.73 L176.30 373.82 L176.65 373.93 L177.00 373.57 L177.35 373.42 L177.70 373.36 L178.05 373.53 L178.40 373.59 L178.75 373.89 L179.10 374.15 L179.45 374.01 L179.80 373.95 L180.15 374.06 L180.50 374.35 L180.85 374.41 L181.20 374.16 L181.55 373.81 L181.90 373.68 L182.25 373.50 L182.60 373.42 L182.95 373.24 L183.30 373.35 L183.65 372.99 L184.00 372.82 L184.35 372.91 L184.70 373.41 L185.05 373.78 L185.40 373.75 L185.75 373.47 L186.10 373.11 L186.45 373.14 L186.80 373.18 L187.15 373.37 L187.50 373.65 L187.85 373.73 L188.20 373.22 L188.55 372.64 L188.90 372.40 L189.25 372.39 L189.60 372.77 L189.95 373.20 L190.30 373.06 L190.65 372.81 L191.00 373.11 L191.35 373.33 L191.70 372.97 L192.05 372.64 L192.40 372.75 L192.75 373.00 L193.10 373.27 L193.45 373.45 L193.80 373.53 L194.15 373.53 L194.50 373.42 L194.85 372.87 L195.20 372.44 L195.55 372.44 L195.90 372.65 L196.25 372.77 L196.60 372.71 L196.95 372.51 L197.30 372.55 L197.65 372.85 L198.00 372.99 L198.35 372.84 L198.70 372.93 L199.05 372.94 L199.40 372.26 L199.75 371.76 L200.10 371.70 L200.45 371.95 L200.80 372.05 L201.15 372.38 L201.50 372.51 L201.85 372.14 L202.20 372.22 L202.55 372.39 L202.90 372.19 L203.25 371.80 L203.60 372.01 L203.95 372.09 L204.30 372.10 L204.65 371.99 L205.00 371.85 L205.35 371.69 L205.70 371.95 L206.05 372.01 L206.40 371.92 L206.75 371.80 L207.10 372.37 L207.45 372.33 L207.80 372.35 L208.15 371.93 L208.50 371.92 L208.85 371.77 L209.20 371.96 L209.55 372.20 L209.90 372.12 L210.25 371.77 L210.60 371.36 L210.95 371.37 L211.30 371.62 L211.65 371.94 L212.00 371.94 L212.35 371.94 L212.70 371.98 L213.05 371.93 L213.40 371.36 L213.75 370.75 L214.10 370.45 L214.45 370.96 L214.80 371.17 L215.15 371.48 L215.50 371.40 L215.85 371.79 L216.20 371.79 L216.55 371.59 L216.90 371.16 L217.25 370.96 L217.60 371.00 L217.95 370.91 L218.30 370.82 L218.65 371.08 L219.00 370.94 L219.35 370.77 L219.70 370.40 L220.05 370.65 L220.40 370.79 L220.75 370.95 L221.10 370.97 L221.45 370.56 L221.80 370.60 L222.15 370.48 L222.50 370.75 L222.85 370.63 L223.20 370.22 L223.55 369.78 L223.90 369.87 L224.25 370.64 L224.60 370.88 L224.95 370.78 L225.30 370.22 L225.65 370.30 L226.00 370.72 L226.35 370.97 L226.70 370.54 L227.05 369.88 L227.40 369.92 L227.75 370.57 L228.10 371.07 L228.45 370.99 L228.80 370.61 L229.15 370.23 L229.50 370.13 L229.85 369.91 L230.20 369.83 L230.55 369.63 L230.90 369.97 L231.25 370.05 L231.60 369.97 L231.95 369.60 L232.30 369.15 L232.65 368.99 L233.00 369.01 L233.35 368.90 L233.70 368.55 L234.05 368.52 L234.40 368.40 L234.75 368.23 L235.10 367.99 L235.45 368.27 L235.80 368.62 L236.15 369.32 L236.50 369.14 L236.85 368.76 L237.20 368.64 L237.55 368.99 L237.90 369.01 L238.25 369.17 L238.60 369.30 L238.95 369.06 L239.30 368.49 L239.65 368.63 L240.00 369.01 L240.35 369.03 L240.70 368.72 L241.05 368.81 L241.40 369.28 L241.75 369.37 L242.10 369.34 L242.45 369.44 L242.80 369.26 L243.15 368.97 L243.50 369.06 L243.85 369.35 L244.20 368.98 L244.55 368.79 L244.90 369.17 L245.25 369.93 L245.60 369.66 L245.95 369.79 L246.30 369.62 L246.65 369.99 L247.00 369.89 L247.35 370.32 L247.70 370.18 L248.05 369.73 L248.40 369.61 L248.75 369.59 L249.10 369.29 L249.45 369.60 L249.80 370.21 L250.15 370.89 L250.50 370.31 L250.85 370.31 L251.20 370.43 L251.55 370.91 L251.90 370.67 L252.25 370.10 L252.60 369.74 L252.95 369.44 L253.30 369.25 L253.65 369.36 L254.00 369.71 L254.35 369.95 L254.70 369.99 L255.05 370.54 L255.40 370.95 L255.75 370.95 L256.10 370.77 L256.45 370.50 L256.80 370.35 L257.15 370.35 L257.50 370.37 L257.85 370.28 L258.20 369.96 L258.55 370.17 L258.90 370.62 L259.25 370.84 L259.60 370.75 L259.95 370.37 L260.30 370.25 L260.65 369.99 L261.00 370.42 L261.35 371.23 L261.70 371.62 L262.05 371.13 L262.40 370.78 L262.75 370.73 L263.10 370.96 L263.45 370.97 L263.80 371.07 L264.15 371.05 L264.50 370.93 L264.85 370.75 L265.20 370.36 L265.55 370.33 L265.90 370.24 L266.25 370.48 L266.60 370.48 L266.95 370.72 L267.30 370.91 L267.65 370.87 L268.00 370.61 L268.35 370.41 L268.70 370.81 L269.05 371.38 L269.40 371.78 L269.75 371.55 L270.10 371.45 L270.45 371.15 L270.80 371.33 L271.15 371.14 L271.50 370.80 L271.85 370.90 L272.20 371.64 L272.55 371.91 L272.90 371.33 L273.25 371.09 L273.60 371.29 L273.95 371.03 L274.30 370.87 L274.65 371.00 L275.00 371.39 L275.35 371.74 L275.70 371.74 L276.05 372.08 L276.40 371.88 L276.75 371.75 L277.10 371.06 L277.45 370.85 L277.80 371.10 L278.15 371.45 L278.50 371.65 L278.85 371.50 L279.20 371.47 L279.55 371.27 L279.90 371.25 L280.25 371.35 L280.60 371.57 L280.95 371.87 L281.30 371.87 L281.65 371.51 L282.00 371.44 L282.35 371.62 L282.70 371.96 L283.05 372.47 L283.40 372.76 L283.75 372.48 L284.10 371.93 L284.45 371.64 L284.80 371.46 L285.15 371.32 L285.50 371.41 L285.85 371.56 L286.20 371.89 L286.55 371.97 L286.90 371.96 L287.25 371.64 L287.60 371.96 L287.95 372.28 L288.30 372.77 L288.65 372.71 L289.00 372.85 L289.35 372.54 L289.70 372.44 L290.05 372.74 L290.40 372.70 L290.75 372.57 L291.10 372.55 L291.45 372.90 L291.80 372.77 L292.15 372.74 L292.50 372.59 L292.85 372.43 L293.20 372.13 L293.55 372.07 L293.90 371.91 L294.25 372.07 L294.60 372.27 L294.95 372.51 L295.30 372.31 L295.65 372.56 L296.00 372.92 L296.35 373.28 L296.70 372.85 L297.05 372.57 L297.40 372.58 L297.75 372.78 L298.10 372.50 L298.45 372.43 L298.80 373.06 L299.15 373.18 L299.50 372.96 L299.85 372.68 L300.20 372.99 L300.55 373.05 L300.90 372.87 L301.25 372.79 L301.60 372.91 L301.95 373.19 L302.30 373.00 L302.65 372.76 L303.00 372.77 L303.35 373.12 L303.70 373.07 L304.05 373.19 L304.40 372.80 L304.75 372.98 L305.10 372.94 L305.45 372.67 L305.80 372.41 L306.15 372.41 L306.50 372.76 L306.85 373.11 L307.20 373.24 L307.55 372.99 L307.90 372.99 L308.25 373.40 L308.60 373.82 L308.95 373.72 L309.30 373.48 L309.65 373.13 L310.00 373.37 L310.35 373.81 L310.70 373.82 L311.05 373.57 L311.40 373.40 L311.75 373.30 L312.10 373.64 L312.45 373.84 L312.80 373.64 L313.15 373.15 L313.50 373.34 L313.85 373.76 L314.20 373.84 L314.55 373.56 L314.90 373.43 L315.25 373.21 L315.60 373.01 L315.95 373.20 L316.30 373.57 L316.65 373.82 L317.00 373.97 L317.35 374.25 L317.70 374.18 L318.05 374.33 L318.40 374.48 L318.75 374.34 L319.10 374.04 L319.45 374.08 L319.80 373.99 L320.15 373.81 L320.50 373.78 L320.85 373.57 L321.20 373.44 L321.55 373.54 L321.90 373.84 L322.25 373.57 L322.60 373.50 L322.95 373.68 L323.30 374.04 L323.65 373.92 L324.00 373.99 L324.35 373.87 L324.70 373.94 L325.05 374.15 L325.40 374.36 L325.75 374.20 L326.10 374.18 L326.45 374.36 L326.80 374.33 L327.15 374.19 L327.50 374.51 L327.85 374.22 L328.20 373.85 L328.55 373.57 L328.90 373.78 L329.25 373.79 L329.60 373.86 L329.95 374.13 L330.30 374.22 L330.65 374.34 L331.00 374.44 L331.35 374.50 L331.70 374.45 L332.05 374.75 L332.40 375.06 L332.75 374.85 L333.10 374.50 L333.45 374.32 L333.80 374.46 L334.15 374.72 L334.50 374.79 L334.85 374.62 L335.20 374.72 L335.55 374.88 L335.90 374.87 L336.25 374.54 L336.60 374.42 L336.95 374.33 L337.30 374.94 L337.65 375.20 L338.00 375.06 L338.35 374.58 L338.70 374.64 L339.05 374.90 L339.40 375.10 L339.75 375.49 L340.10 375.54 L340.45 375.67 L340.80 375.39" stroke="#0b8f8f" stroke-width="2.5" fill="none" stroke-linejoin="round" clip-path="url(#ca3)"/>
<path d="M59.90 395.38V330M63.03 394.63V330M66.16 393.88V330M69.28 393.13V330M72.41 392.39V330M75.54 391.64V330M78.67 391.13V330M81.79 390.64V330M84.92 390.15V330M88.05 389.66V330M91.18 389.15V330M94.30 388.25V330M97.43 387.35V330M100.56 386.45V330M103.69 385.55V330M106.81 384.69V330M109.94 384.04V330M113.07 383.38V330M116.20 382.73V330M119.32 382.08V330M122.45 381.41V330M125.58 380.72V330M128.71 380.03V330M131.83 379.34V330M134.96 378.65V330M138.09 378.00V330M141.22 377.42V330M144.34 376.84V330M147.47 376.27V330M150.60 375.76V330M156.70 375.33V330M162.39 374.93V330M168.07 374.53V330M173.76 374.15V330M179.44 373.77V330M185.13 373.39V330M190.81 373.01V330M196.50 372.63V330M202.19 372.22V330M207.87 371.76V330M213.56 371.30V330M219.24 370.85V330M224.93 370.39V330M230.61 369.84V330M236.30 368.84V330" stroke="#0b8f8f" stroke-width="1.2" fill="none" clip-path="url(#ca3)"/>
<g clip-path="url(#cb1)"><path d="M417.20 110V92.00L417.80 88.50L418.70 86.20L419.30 84.00L420.00 85.20V110ZM423.90 110V72.40L424.40 71.80L425.00 73.56L425.80 75.00V110ZM429.50 110V65.70L430.00 65.10L430.60 66.86L431.60 68.30V110ZM435.50 110V60.80L436.00 60.20L436.60 61.96L439.40 63.40V110ZM445.10 110V51.20L445.60 50.60L446.20 52.36L447.60 53.80V110ZM451.30 110V47.90L451.80 47.30L452.40 49.06L453.70 50.50V110ZM457.30 110V45.60L457.80 45.00L458.40 46.76L459.40 48.20V110ZM462.90 110V42.30L463.40 41.70L464.00 43.46L465.30 44.90V110ZM469.10 110V41.20L469.60 40.60L470.20 42.36L471.00 43.80V110ZM475.10 110V38.50L475.60 37.90L476.20 39.66L477.50 41.10V110ZM481.10 110V36.30L481.60 35.70L482.20 37.46L483.00 38.90V110ZM486.90 110V35.00L487.40 34.40L488.00 36.16L488.70 37.60V110ZM491.80 110V34.10L492.30 33.50L492.90 35.26L493.90 36.70V110ZM496.70 110V33.90L497.20 33.30L497.80 35.06L499.30 36.50V110ZM502.30 110V31.60L502.80 31.00L503.40 32.76L504.70 34.20V110ZM508.00 110V30.50L508.50 29.90L509.10 31.66L511.00 33.10V110ZM514.70 110V29.40L515.20 28.80L515.80 30.56L518.10 32.00V110ZM522.40 110V26.70L522.90 26.10L523.50 27.86L525.30 29.30V110ZM528.40 110V26.70L528.90 26.10L529.50 27.86L530.90 29.30V110ZM534.30 110V27.80L534.80 27.20L535.40 27.36L536.70 27.50V110Z" fill="#d8f0d8" stroke="none"/><path d="M417.20 110V92.00L417.80 88.50L418.70 86.20L419.30 84.00L420.00 85.20V110M423.90 110V72.40L424.40 71.80L425.00 73.56L425.80 75.00V110M429.50 110V65.70L430.00 65.10L430.60 66.86L431.60 68.30V110M435.50 110V60.80L436.00 60.20L436.60 61.96L439.40 63.40V110M445.10 110V51.20L445.60 50.60L446.20 52.36L447.60 53.80V110M451.30 110V47.90L451.80 47.30L452.40 49.06L453.70 50.50V110M457.30 110V45.60L457.80 45.00L458.40 46.76L459.40 48.20V110M462.90 110V42.30L463.40 41.70L464.00 43.46L465.30 44.90V110M469.10 110V41.20L469.60 40.60L470.20 42.36L471.00 43.80V110M475.10 110V38.50L475.60 37.90L476.20 39.66L477.50 41.10V110M481.10 110V36.30L481.60 35.70L482.20 37.46L483.00 38.90V110M486.90 110V35.00L487.40 34.40L488.00 36.16L488.70 37.60V110M491.80 110V34.10L492.30 33.50L492.90 35.26L493.90 36.70V110M496.70 110V33.90L497.20 33.30L497.80 35.06L499.30 36.50V110M502.30 110V31.60L502.80 31.00L503.40 32.76L504.70 34.20V110M508.00 110V30.50L508.50 29.90L509.10 31.66L511.00 33.10V110M514.70 110V29.40L515.20 28.80L515.80 30.56L518.10 32.00V110M522.40 110V26.70L522.90 26.10L523.50 27.86L525.30 29.30V110M528.40 110V26.70L528.90 26.10L529.50 27.86L530.90 29.30V110M534.30 110V27.80L534.80 27.20L535.40 27.36L536.70 27.50V110" fill="none" stroke="#3fb53f" stroke-width="0.9"/><path d="M418.60 86.60L419.30 84.40L419.80 85.60M424.20 72.20L424.50 72.00L424.90 73.40L425.10 76.20M429.80 65.50L430.10 65.30L430.50 66.70L430.70 69.50M435.80 60.60L436.10 60.40L436.50 61.80L436.70 64.60M445.40 51.00L445.70 50.80L446.10 52.20L446.30 55.00M451.60 47.70L451.90 47.50L452.30 48.90L452.50 51.70M457.60 45.40L457.90 45.20L458.30 46.60L458.50 49.40M463.20 42.10L463.50 41.90L463.90 43.30L464.10 46.10M469.40 41.00L469.70 40.80L470.10 42.20L470.30 45.00M475.40 38.30L475.70 38.10L476.10 39.50L476.30 42.30M481.40 36.10L481.70 35.90L482.10 37.30L482.30 40.10M487.20 34.80L487.50 34.60L487.90 36.00L488.10 38.80M492.10 33.90L492.40 33.70L492.80 35.10L493.00 37.90M497.00 33.70L497.30 33.50L497.70 34.90L497.90 37.70M502.60 31.40L502.90 31.20L503.30 32.60L503.50 35.40M508.30 30.30L508.60 30.10L509.00 31.50L509.20 34.30M515.00 29.20L515.30 29.00L515.70 30.40L515.90 33.20M522.70 26.50L523.00 26.30L523.40 27.70L523.60 30.50M528.70 26.50L529.00 26.30L529.40 27.70L529.60 30.50M534.60 27.60L534.90 27.40L535.30 27.35L535.50 28.70" fill="none" stroke="#1e9e1e" stroke-width="1.05" stroke-linejoin="round" stroke-opacity="0.85"/></g>
<g clip-path="url(#cb1)"><path d="M554.50 110V92.00L555.10 88.50L556.00 86.20L556.60 84.00L557.40 85.20V110ZM561.20 110V73.10L561.70 72.50L562.30 74.26L564.30 75.70V110ZM567.80 110V63.50L568.30 62.90L568.90 64.66L569.90 66.10V110ZM573.40 110V59.00L573.90 58.40L574.50 60.16L576.10 61.60V110ZM579.00 110V54.60L579.50 54.00L580.10 55.76L581.20 57.20V110ZM584.10 110V50.80L584.60 50.20L585.20 51.96L586.70 53.40V110ZM590.10 110V47.90L590.60 47.30L591.20 49.06L592.20 50.50V110ZM595.70 110V45.00L596.20 44.40L596.80 46.16L598.20 47.60V110ZM601.90 110V41.20L602.40 40.60L603.00 42.36L605.10 43.80V110ZM611.30 110V37.40L611.80 36.80L612.40 38.56L614.00 40.00V110ZM617.30 110V36.80L617.80 36.20L618.40 37.96L619.70 39.40V110ZM622.90 110V35.60L623.40 35.00L624.00 36.76L625.40 38.20V110ZM628.60 110V33.00L629.10 32.40L629.70 34.16L631.40 35.60V110ZM643.10 110V29.40L643.60 28.80L644.20 30.56L646.30 32.00V110ZM649.80 110V29.40L650.30 28.80L650.90 30.56L652.60 32.00V110ZM655.80 110V28.30L656.30 27.70L656.90 29.46L658.80 30.90V110ZM662.00 110V27.20L662.50 26.60L663.10 28.36L665.10 29.80V110ZM668.10 110V26.30L668.60 25.70L669.20 27.46L671.60 28.90V110ZM673.60 110V25.20L674.10 24.60L674.70 26.36L676.40 27.80V110Z" fill="#ebd0f1" stroke="none"/><path d="M554.50 110V92.00L555.10 88.50L556.00 86.20L556.60 84.00L557.40 85.20V110M561.20 110V73.10L561.70 72.50L562.30 74.26L564.30 75.70V110M567.80 110V63.50L568.30 62.90L568.90 64.66L569.90 66.10V110M573.40 110V59.00L573.90 58.40L574.50 60.16L576.10 61.60V110M579.00 110V54.60L579.50 54.00L580.10 55.76L581.20 57.20V110M584.10 110V50.80L584.60 50.20L585.20 51.96L586.70 53.40V110M590.10 110V47.90L590.60 47.30L591.20 49.06L592.20 50.50V110M595.70 110V45.00L596.20 44.40L596.80 46.16L598.20 47.60V110M601.90 110V41.20L602.40 40.60L603.00 42.36L605.10 43.80V110M611.30 110V37.40L611.80 36.80L612.40 38.56L614.00 40.00V110M617.30 110V36.80L617.80 36.20L618.40 37.96L619.70 39.40V110M622.90 110V35.60L623.40 35.00L624.00 36.76L625.40 38.20V110M628.60 110V33.00L629.10 32.40L629.70 34.16L631.40 35.60V110M643.10 110V29.40L643.60 28.80L644.20 30.56L646.30 32.00V110M649.80 110V29.40L650.30 28.80L650.90 30.56L652.60 32.00V110M655.80 110V28.30L656.30 27.70L656.90 29.46L658.80 30.90V110M662.00 110V27.20L662.50 26.60L663.10 28.36L665.10 29.80V110M668.10 110V26.30L668.60 25.70L669.20 27.46L671.60 28.90V110M673.60 110V25.20L674.10 24.60L674.70 26.36L676.40 27.80V110" fill="none" stroke="#a636c8" stroke-width="0.9"/><path d="M555.90 86.60L556.60 84.40L557.20 85.60M561.50 72.90L561.80 72.70L562.20 74.10L562.40 76.90M568.10 63.30L568.40 63.10L568.80 64.50L569.00 67.30M573.70 58.80L574.00 58.60L574.40 60.00L574.60 62.80M579.30 54.40L579.60 54.20L580.00 55.60L580.20 58.40M584.40 50.60L584.70 50.40L585.10 51.80L585.30 54.60M590.40 47.70L590.70 47.50L591.10 48.90L591.30 51.70M596.00 44.80L596.30 44.60L596.70 46.00L596.90 48.80M602.20 41.00L602.50 40.80L602.90 42.20L603.10 45.00M611.60 37.20L611.90 37.00L612.30 38.40L612.50 41.20M617.60 36.60L617.90 36.40L618.30 37.80L618.50 40.60M623.20 35.40L623.50 35.20L623.90 36.60L624.10 39.40M628.90 32.80L629.20 32.60L629.60 34.00L629.80 36.80M643.40 29.20L643.70 29.00L644.10 30.40L644.30 33.20M650.10 29.20L650.40 29.00L650.80 30.40L651.00 33.20M656.10 28.10L656.40 27.90L656.80 29.30L657.00 32.10M662.30 27.00L662.60 26.80L663.00 28.20L663.20 31.00M668.40 26.10L668.70 25.90L669.10 27.30L669.30 30.10M673.90 25.00L674.20 24.80L674.60 26.20L674.80 29.00" fill="none" stroke="#8e0fb0" stroke-width="1.05" stroke-linejoin="round" stroke-opacity="0.85"/></g>
<g clip-path="url(#cb2)"><path d="M417.20 174.00V118H420.00V184.50ZM423.90 167.10V118H425.80V180.50ZM429.50 163.80V118H431.60V175.80ZM435.50 158.40V118H439.40V184.50ZM445.10 153.70V118H447.60V174.50ZM451.30 152.40V118H453.70V171.40ZM457.30 151.00V118H459.40V167.80ZM462.90 147.70V118H465.30V168.70ZM469.10 147.00V118H471.00V163.80ZM475.10 144.50V118H477.50V165.50ZM481.10 146.80V118H483.00V157.70ZM486.90 142.20V118H488.70V158.50ZM491.80 144.50V118H493.90V161.60ZM496.70 143.70V118H499.30V164.80ZM502.30 142.20V118H504.70V163.20ZM508.00 140.60V118H511.00V166.30ZM514.70 142.20V118H518.10V168.70ZM522.40 140.60V118H525.30V165.20ZM528.40 139.80V118H530.90V159.30ZM534.30 139.00V118H536.70V186.60Z" fill="#e2f4e2" stroke="none"/><path d="M414.60 212.00 L414.90 200.00 L415.40 186.00 L416.20 178.00 L417.20 174.00 L417.20 174.00 L417.20 118.00 L420.00 118.00 L420.00 184.50 L420.00 184.50 L420.43 179.78 L420.87 176.25 L421.30 173.60 L421.73 171.62 L422.17 170.14 L422.60 169.03 L423.03 168.19 L423.47 167.57 L423.90 167.10 L423.90 167.10 L423.90 118.00 L425.80 118.00 L425.80 180.50 L425.80 180.50 L426.21 175.97 L426.62 172.58 L427.03 170.04 L427.44 168.14 L427.86 166.72 L428.27 165.65 L428.68 164.85 L429.09 164.25 L429.50 163.80 L429.50 163.80 L429.50 118.00 L431.60 118.00 L431.60 175.80 L431.60 175.80 L432.03 171.08 L432.47 167.55 L432.90 164.90 L433.33 162.92 L433.77 161.44 L434.20 160.33 L434.63 159.49 L435.07 158.87 L435.50 158.40 L435.50 158.40 L435.50 118.00 L439.40 118.00 L439.40 184.50 L439.40 184.50 L440.03 176.15 L440.67 169.90 L441.30 165.21 L441.93 161.71 L442.57 159.08 L443.20 157.11 L443.83 155.63 L444.47 154.53 L445.10 153.70 L445.10 153.70 L445.10 118.00 L447.60 118.00 L447.60 174.50 L447.60 174.50 L448.01 168.51 L448.42 164.02 L448.83 160.66 L449.24 158.14 L449.66 156.26 L450.07 154.85 L450.48 153.79 L450.89 152.99 L451.30 152.40 L451.30 152.40 L451.30 118.00 L453.70 118.00 L453.70 171.40 L453.70 171.40 L454.10 165.87 L454.50 161.73 L454.90 158.63 L455.30 156.30 L455.70 154.56 L456.10 153.26 L456.50 152.28 L456.90 151.55 L457.30 151.00 L457.30 151.00 L457.30 118.00 L459.40 118.00 L459.40 167.80 L459.40 167.80 L459.79 162.35 L460.18 158.27 L460.57 155.21 L460.96 152.92 L461.34 151.21 L461.73 149.92 L462.12 148.96 L462.51 148.24 L462.90 147.70 L462.90 147.70 L462.90 118.00 L465.30 118.00 L465.30 168.70 L465.30 168.70 L465.72 162.82 L466.14 158.41 L466.57 155.11 L466.99 152.64 L467.41 150.79 L467.83 149.40 L468.26 148.36 L468.68 147.58 L469.10 147.00 L469.10 147.00 L469.10 118.00 L471.00 118.00 L471.00 163.80 L471.00 163.80 L471.46 158.57 L471.91 154.65 L472.37 151.72 L472.82 149.52 L473.28 147.87 L473.73 146.64 L474.19 145.71 L474.64 145.02 L475.10 144.50 L475.10 144.50 L475.10 118.00 L477.50 118.00 L477.50 165.50 L477.50 165.50 L477.90 160.43 L478.30 156.63 L478.70 153.79 L479.10 151.66 L479.50 150.06 L479.90 148.87 L480.30 147.97 L480.70 147.30 L481.10 146.80 L481.10 146.80 L481.10 118.00 L483.00 118.00 L483.00 157.70 L483.00 157.70 L483.43 153.50 L483.87 150.35 L484.30 147.99 L484.73 146.23 L485.17 144.91 L485.60 143.91 L486.03 143.17 L486.47 142.62 L486.90 142.20 L486.90 142.20 L486.90 118.00 L488.70 118.00 L488.70 158.50 L488.70 158.50 L489.04 154.71 L489.39 151.86 L489.73 149.73 L490.08 148.14 L490.42 146.94 L490.77 146.05 L491.11 145.38 L491.46 144.88 L491.80 144.50 L491.80 144.50 L491.80 118.00 L493.90 118.00 L493.90 161.60 L493.90 161.60 L494.21 156.75 L494.52 153.11 L494.83 150.39 L495.14 148.35 L495.46 146.82 L495.77 145.68 L496.08 144.82 L496.39 144.18 L496.70 143.70 L496.70 143.70 L496.70 118.00 L499.30 118.00 L499.30 164.80 L499.30 164.80 L499.63 158.67 L499.97 154.09 L500.30 150.65 L500.63 148.07 L500.97 146.15 L501.30 144.70 L501.63 143.62 L501.97 142.81 L502.30 142.20 L502.30 142.20 L502.30 118.00 L504.70 118.00 L504.70 163.20 L504.70 163.20 L505.07 157.07 L505.43 152.49 L505.80 149.05 L506.17 146.47 L506.53 144.55 L506.90 143.10 L507.27 142.02 L507.63 141.21 L508.00 140.60 L508.00 140.60 L508.00 118.00 L511.00 118.00 L511.00 166.30 L511.00 166.30 L511.41 159.77 L511.82 154.87 L512.23 151.21 L512.64 148.46 L513.06 146.41 L513.47 144.87 L513.88 143.71 L514.29 142.85 L514.70 142.20 L514.70 142.20 L514.70 118.00 L518.10 118.00 L518.10 168.70 L518.10 168.70 L518.58 161.08 L519.06 155.38 L519.53 151.11 L520.01 147.90 L520.49 145.51 L520.97 143.71 L521.44 142.36 L521.92 141.36 L522.40 140.60 L522.40 140.60 L522.40 118.00 L525.30 118.00 L525.30 165.20 L525.30 165.20 L525.64 158.32 L525.99 153.16 L526.33 149.30 L526.68 146.40 L527.02 144.23 L527.37 142.61 L527.71 141.39 L528.06 140.48 L528.40 139.80 L528.40 139.80 L528.40 118.00 L530.90 118.00 L530.90 159.30 L530.90 159.30 L531.28 153.80 L531.66 149.68 L532.03 146.59 L532.41 144.28 L532.79 142.54 L533.17 141.25 L533.54 140.27 L533.92 139.55 L534.30 139.00 L534.30 139.00 L534.30 118.00 L536.70 118.00 L536.70 186.60 L535.60 187.00 L536.40 150.00 L537.60 143.00 L537.80 212.00" fill="none" stroke="#3fb53f" stroke-width="1.0" stroke-linejoin="round"/></g>
<g clip-path="url(#cb2)"><path d="M554.50 174.90V118H557.40V184.20ZM561.20 166.30V118H564.30V181.90ZM567.80 163.20V118H569.90V171.00ZM573.40 160.00V118H576.10V174.60ZM579.00 157.00V118H581.20V170.20ZM584.10 154.60V118H586.70V169.40ZM590.10 153.80V118H592.20V168.70ZM595.70 149.90V118H598.20V169.00ZM601.90 148.40V118H605.10V167.90ZM611.30 141.40V118H614.00V160.90ZM617.30 145.00V118H619.70V164.30ZM622.90 143.40V118H625.40V160.90ZM628.60 141.70V118H631.40V162.60ZM643.10 137.50V118H646.30V160.90ZM649.80 141.70V118H652.60V160.90ZM655.80 140.90V118H658.80V161.70ZM662.00 139.20V118H665.10V160.10ZM668.10 138.40V118H671.60V172.20ZM673.60 137.50V118H676.40V146.00Z" fill="#f1def5" stroke="none"/><path d="M551.60 212.00 L552.00 198.00 L552.80 186.00 L553.60 178.00 L554.50 174.90 L554.50 174.90 L554.50 118.00 L557.40 118.00 L557.40 184.20 L557.40 184.20 L557.82 179.35 L558.24 175.71 L558.67 172.99 L559.09 170.95 L559.51 169.42 L559.93 168.28 L560.36 167.42 L560.78 166.78 L561.20 166.30 L561.20 166.30 L561.20 118.00 L564.30 118.00 L564.30 181.90 L564.30 181.90 L564.69 176.83 L565.08 173.03 L565.47 170.19 L565.86 168.06 L566.24 166.46 L566.63 165.27 L567.02 164.37 L567.41 163.70 L567.80 163.20 L567.80 163.20 L567.80 118.00 L569.90 118.00 L569.90 171.00 L569.90 171.00 L570.29 168.02 L570.68 165.79 L571.07 164.11 L571.46 162.86 L571.84 161.92 L572.23 161.22 L572.62 160.69 L573.01 160.30 L573.40 160.00 L573.40 160.00 L573.40 118.00 L576.10 118.00 L576.10 174.60 L576.10 174.60 L576.42 169.83 L576.74 166.26 L577.07 163.58 L577.39 161.57 L577.71 160.07 L578.03 158.95 L578.36 158.10 L578.68 157.47 L579.00 157.00 L579.00 157.00 L579.00 118.00 L581.20 118.00 L581.20 170.20 L581.20 170.20 L581.52 165.97 L581.84 162.80 L582.17 160.43 L582.49 158.65 L582.81 157.32 L583.13 156.33 L583.46 155.58 L583.78 155.02 L584.10 154.60 L584.10 154.60 L584.10 118.00 L586.70 118.00 L586.70 169.40 L586.70 169.40 L587.08 165.17 L587.46 162.00 L587.83 159.63 L588.21 157.85 L588.59 156.52 L588.97 155.53 L589.34 154.78 L589.72 154.22 L590.10 153.80 L590.10 153.80 L590.10 118.00 L592.20 118.00 L592.20 168.70 L592.20 168.70 L592.59 163.60 L592.98 159.79 L593.37 156.93 L593.76 154.79 L594.14 153.18 L594.53 151.98 L594.92 151.08 L595.31 150.41 L595.70 149.90 L595.70 149.90 L595.70 118.00 L598.20 118.00 L598.20 169.00 L598.20 169.00 L598.61 163.42 L599.02 159.23 L599.43 156.10 L599.84 153.75 L600.26 152.00 L600.67 150.68 L601.08 149.69 L601.49 148.95 L601.90 148.40 L601.90 148.40 L601.90 118.00 L605.10 118.00 L605.10 167.90 L605.10 167.90 L605.79 160.72 L606.48 155.34 L607.17 151.31 L607.86 148.29 L608.54 146.03 L609.23 144.33 L609.92 143.06 L610.61 142.11 L611.30 141.40 L611.30 141.40 L611.30 118.00 L614.00 118.00 L614.00 160.90 L614.00 160.90 L614.37 156.59 L614.73 153.36 L615.10 150.94 L615.47 149.13 L615.83 147.78 L616.20 146.76 L616.57 146.00 L616.93 145.43 L617.30 145.00 L617.30 145.00 L617.30 118.00 L619.70 118.00 L619.70 164.30 L619.70 164.30 L620.06 158.64 L620.41 154.39 L620.77 151.21 L621.12 148.83 L621.48 147.05 L621.83 145.71 L622.19 144.71 L622.54 143.96 L622.90 143.40 L622.90 143.40 L622.90 118.00 L625.40 118.00 L625.40 160.90 L625.40 160.90 L625.76 155.70 L626.11 151.80 L626.47 148.88 L626.82 146.69 L627.18 145.05 L627.53 143.82 L627.89 142.90 L628.24 142.22 L628.60 141.70 L628.60 141.70 L628.60 118.00 L631.40 118.00 L631.40 162.60 L631.40 162.60 L632.40 150.00 L633.40 143.40 L635.90 140.00 L637.50 142.00 L639.70 150.90 L640.50 143.00 L641.70 138.40 L643.10 137.50 L643.10 137.50 L643.10 118.00 L646.30 118.00 L646.30 160.90 L646.30 160.90 L646.69 155.70 L647.08 151.80 L647.47 148.88 L647.86 146.69 L648.24 145.05 L648.63 143.82 L649.02 142.90 L649.41 142.22 L649.80 141.70 L649.80 141.70 L649.80 118.00 L652.60 118.00 L652.60 160.90 L652.60 160.90 L652.96 155.48 L653.31 151.42 L653.67 148.38 L654.02 146.10 L654.38 144.39 L654.73 143.11 L655.09 142.15 L655.44 141.44 L655.80 140.90 L655.80 140.90 L655.80 118.00 L658.80 118.00 L658.80 161.70 L658.80 161.70 L659.16 155.60 L659.51 151.03 L659.87 147.61 L660.22 145.05 L660.58 143.13 L660.93 141.69 L661.29 140.61 L661.64 139.80 L662.00 139.20 L662.00 139.20 L662.00 118.00 L665.10 118.00 L665.10 160.10 L665.10 160.10 L665.43 154.22 L665.77 149.81 L666.10 146.51 L666.43 144.04 L666.77 142.19 L667.10 140.80 L667.43 139.76 L667.77 138.98 L668.10 138.40 L668.10 138.40 L668.10 118.00 L671.60 118.00 L671.60 172.20 L671.60 172.20 L671.82 162.80 L672.04 155.75 L672.27 150.47 L672.49 146.52 L672.71 143.56 L672.93 141.34 L673.16 139.68 L673.38 138.43 L673.60 137.50 L673.60 137.50 L673.60 118.00 L676.40 118.00 L676.40 146.00 L676.80 150.00 L677.00 156.00 L677.30 214.00" fill="none" stroke="#a636c8" stroke-width="1.0" stroke-linejoin="round"/></g>
<path d="M543 22.4V107.0M546.8 22.4V107.0M543 123.9V208.1M546.8 123.9V208.1" stroke="#000" stroke-width="1.7"/>
<path d="M457.9 236.7V423.3" stroke="#7e7e7e" stroke-width="1.35" stroke-dasharray="2.9,1.1" fill="none"/>
<g clip-path="url(#cc)" fill="none" stroke-width="0.95" stroke-linejoin="round">
<path d="M408.40 406.16 L408.82 407.63 L409.24 407.32 L409.66 405.37 L410.08 404.87 L410.50 405.10 L410.92 406.03 L411.34 406.04 L411.76 405.73 L412.18 404.37 L412.60 406.65 L413.02 406.34 L413.44 406.29 L413.86 405.56 L414.28 405.29 L414.70 406.30 L415.12 406.64 L415.54 405.62 L415.96 405.61 L416.38 405.99 L416.80 404.29 L417.22 403.69 L417.64 405.22 L418.06 404.26 L418.48 402.85 L418.90 403.76 L419.32 404.30 L419.74 403.49 L420.16 403.46 L420.58 405.42 L421.00 406.55 L421.42 405.39 L421.84 404.81 L422.26 406.03 L422.68 406.45 L423.10 405.74 L423.52 406.50 L423.94 406.92 L424.36 405.45 L424.78 404.73 L425.20 405.78 L425.62 406.43 L426.04 406.46 L426.46 404.30 L426.88 404.04 L427.30 403.73 L427.72 403.35 L428.14 405.29 L428.56 405.97 L428.98 405.48 L429.40 407.21 L429.82 407.30 L430.24 406.78 L430.66 406.66 L431.08 406.34 L431.50 404.68 L431.92 406.02 L432.34 405.85 L432.76 403.95 L433.18 405.23 L433.60 405.74 L434.02 406.23 L434.44 405.39 L434.86 405.54 L435.28 405.65 L435.70 404.96 L436.12 405.91 L436.54 405.89 L436.96 405.92 L437.38 405.61 L437.80 406.87 L438.22 406.64 L438.64 405.87 L439.06 406.73 L439.48 407.96 L439.90 407.52 L440.32 404.82 L440.74 406.19 L441.16 406.43 L441.58 405.29 L442.00 404.89 L442.42 406.17 L442.84 404.85 L443.26 406.26 L443.68 406.69 L444.10 404.16 L444.52 404.15 L444.94 404.09 L445.36 405.96 L445.78 408.19 L446.20 407.81 L446.62 404.12 L447.04 404.54 L447.46 406.78 L447.88 407.83 L448.30 406.40 L448.72 405.02 L449.14 405.65 L449.56 405.62 L449.98 405.08 L450.40 404.83 L450.82 405.88 L451.24 406.06 L451.66 405.53 L452.08 404.82 L452.50 403.87 L452.92 405.02 L453.34 406.72 L453.76 405.29 L454.18 404.39 L454.60 406.78 L455.02 407.51 L455.44 408.23 L455.86 406.30 L456.28 404.55 L456.70 404.28 L457.12 407.54 L457.54 409.03 L457.7 406 L458.3 426" stroke="#2a7ab8"/>
<path d="M408.40 405.12 L408.82 405.98 L409.24 407.42 L409.66 406.98 L410.08 407.54 L410.50 408.37 L410.92 409.30 L411.34 410.13 L411.76 409.59 L412.18 409.70 L412.60 408.80 L413.02 408.20 L413.44 405.94 L413.86 406.64 L414.28 408.93 L414.70 408.65 L415.12 409.44 L415.54 410.14 L415.96 410.82 L416.38 410.61 L416.80 410.23 L417.22 408.79 L417.64 407.68 L418.06 407.52 L418.48 407.54 L418.90 407.12 L419.32 407.71 L419.74 408.58 L420.16 408.92 L420.58 407.78 L421.00 406.45 L421.42 408.07 L421.84 409.44 L422.26 410.34 L422.68 409.63 L423.10 408.01 L423.52 408.49 L423.94 411.10 L424.36 411.12 L424.78 411.98 L425.20 411.61 L425.62 408.82 L426.04 409.10 L426.46 409.68 L426.88 409.82 L427.30 409.71 L427.72 409.30 L428.14 408.50 L428.56 407.09 L428.98 407.76 L429.40 407.93 L429.82 408.48 L430.24 408.55 L430.66 409.64 L431.08 410.09 L431.50 409.58 L431.92 409.31 L432.34 408.86 L432.76 408.26 L433.18 408.25 L433.60 408.32 L434.02 409.06 L434.44 409.18 L434.86 408.96 L435.28 407.84 L435.70 409.02 L436.12 407.99 L436.54 407.60 L436.96 408.08 L437.38 408.19 L437.80 408.70 L438.22 407.85 L438.64 407.04 L439.06 407.93 L439.48 409.99 L439.90 408.91 L440.32 407.49 L440.74 407.77 L441.16 407.71 L441.58 409.67 L442.00 407.92 L442.42 408.97 L442.84 409.05 L443.26 407.47 L443.68 408.97 L444.10 410.23 L444.52 409.81 L444.94 409.64 L445.36 410.04 L445.78 409.47 L446.20 409.20 L446.62 409.02 L447.04 409.11 L447.46 408.27 L447.88 409.15 L448.30 408.11 L448.72 407.50 L449.14 409.45 L449.56 411.23 L449.98 410.34 L450.40 408.84 L450.82 409.23 L451.24 408.50 L451.66 408.52 L452.08 407.97 L452.50 406.27 L452.92 407.75 L453.34 407.43 L453.76 407.05 L454.18 406.28 L454.60 406.15 L455.02 407.46 L455.44 410.02 L455.86 411.00 L456.28 409.82 L456.70 409.93 L457.12 408.19 L457.54 406.52 L457.6 408" stroke="#ff7f0e"/>
<path d="M460.20 424.95 L460.56 419.91 L460.92 419.11 L461.28 417.19 L461.64 415.08 L461.70 414.41 L462.00 412.00 L462.36 411.56 L462.72 411.53 L463.08 413.15 L463.20 410.68 L463.44 408.54 L463.80 407.57 L464.16 406.34 L464.52 405.32 L464.88 405.48 L465.24 405.67 L465.60 404.93 L465.96 404.82 L466.30 403.43 L466.32 403.78 L466.68 404.79 L467.04 403.59 L467.40 401.93 L467.76 401.84 L468.12 402.88 L468.48 403.51 L468.84 401.38 L469.20 400.75 L469.56 401.09 L469.92 399.44 L470.28 399.50 L470.40 400.73 L470.64 400.38 L471.00 399.56 L471.36 398.37 L471.72 395.84 L472.08 397.56 L472.44 396.18 L472.80 395.02 L473.16 396.55 L473.52 396.88 L473.88 395.20 L474.24 394.11 L474.50 394.73 L474.60 395.25 L474.96 395.47 L475.32 394.05 L475.68 392.50 L475.80 392.46 L476.04 390.85 L476.40 389.71 L476.76 390.60 L477.12 390.40 L477.48 388.91 L477.84 387.94 L478.20 387.40 L478.56 385.56 L478.92 387.44 L479.28 387.15 L479.64 384.99 L480.00 385.22 L480.36 384.89 L480.72 384.91 L481.08 382.53 L481.44 382.85 L481.80 384.65 L482.16 384.08 L482.30 381.16 L482.52 381.59 L482.88 381.98 L483.24 381.33 L483.60 381.61 L483.96 379.28 L484.32 378.71 L484.68 377.91 L485.04 378.76 L485.40 377.27 L485.76 375.21 L486.12 374.13 L486.48 376.18 L486.84 375.67 L487.10 374.95 L487.20 374.82 L487.56 372.83 L487.92 370.51 L488.28 369.05 L488.64 368.80 L489.00 369.15 L489.36 366.29 L489.72 365.35 L490.08 365.19 L490.44 365.03 L490.80 364.00 L491.16 361.10 L491.52 359.61 L491.88 360.73 L492.00 362.14 L492.24 361.05 L492.60 358.86 L492.96 357.06 L493.32 356.05 L493.68 354.80 L494.04 353.89 L494.40 351.62 L494.76 350.68 L495.12 349.70 L495.48 348.92 L495.84 348.36 L496.20 349.05 L496.56 347.49 L496.92 344.61 L497.28 340.22 L497.64 339.40 L498.00 338.84 L498.36 337.69 L498.40 336.20 L498.72 338.23 L499.08 337.84 L499.44 334.78 L499.80 333.70 L500.00 333.93 L500.16 334.66 L500.52 335.10 L500.88 335.02 L501.24 332.52 L501.60 331.55 L501.96 330.83 L502.32 330.97 L502.68 329.71 L503.04 328.18 L503.40 325.16 L503.76 324.04 L504.12 323.54 L504.48 324.48 L504.50 324.01 L504.84 322.03 L505.20 321.20 L505.56 321.06 L505.92 319.40 L506.28 318.58 L506.64 320.01 L507.00 320.98 L507.36 318.06 L507.72 315.91 L508.08 314.43 L508.44 314.04 L508.80 315.39 L509.16 315.42 L509.52 314.11 L509.88 313.41 L510.00 313.09 L510.24 312.10 L510.60 310.21 L510.96 310.42 L511.32 310.55 L511.68 309.39 L512.04 308.75 L512.40 308.14 L512.76 308.41 L513.12 308.86 L513.48 307.51 L513.84 307.15 L514.20 307.67 L514.50 307.76 L514.56 307.27 L514.92 303.47 L515.28 303.55 L515.64 302.17 L516.00 301.37 L516.36 301.19 L516.72 300.46 L517.08 298.97 L517.44 297.31 L517.80 296.65 L517.80 295.22 L518.16 295.86 L518.52 297.25 L518.88 297.93 L519.24 300.74 L519.60 301.72 L519.96 302.59 L520.32 301.38 L520.68 301.25 L521.04 302.73 L521.20 303.42 L521.40 302.44 L521.76 302.61 L522.12 302.87 L522.48 303.41 L522.84 301.94 L523.20 302.11 L523.56 300.58 L523.92 299.50 L524.28 299.25 L524.50 299.15 L524.64 300.65 L525.00 301.62 L525.36 301.07 L525.72 301.48 L526.08 302.10 L526.44 300.88 L526.80 300.04 L527.16 298.93 L527.52 298.07 L527.80 299.12 L527.88 298.28 L528.24 300.28 L528.60 301.41 L528.96 302.54 L529.32 302.00 L529.68 301.79 L530.04 303.03 L530.40 303.19 L530.76 303.93 L531.12 304.82 L531.48 305.28 L531.84 305.52 L532.20 305.63 L532.30 305.56 L532.56 303.68 L532.92 303.66 L533.28 303.03 L533.64 304.10 L534.00 302.90 L534.36 299.25 L534.72 299.19 L535.08 298.26 L535.44 296.71 L535.60 297.23 L535.80 295.50 L536.16 292.90 L536.52 292.65 L536.88 291.98 L537.24 290.41 L537.60 288.34 L537.96 288.44 L538.32 287.15 L538.68 283.98 L539.00 282.78 L539.04 283.18 L539.40 281.85 L539.76 281.74 L540.12 278.67 L540.48 275.10 L540.84 273.33 L541.20 273.17 L541.20 275.03 L541.56 274.62 L541.92 275.47 L542.28 277.05 L542.64 278.68 L542.80 280.49 L543.00 279.72 L543.36 281.54 L543.72 283.20 L544.08 284.51 L544.44 285.48 L544.80 288.94 L545.16 289.71 L545.52 290.53 L545.70 290.47 L545.88 290.66 L546.24 291.97 L546.60 292.50 L546.96 292.29 L547.32 292.23 L547.68 291.35 L548.04 290.46 L548.40 290.71 L548.76 290.22 L549.12 289.41 L549.48 289.96 L549.84 290.19 L550.10 288.87 L550.20 288.23 L550.56 289.45 L550.92 290.21 L551.28 288.33 L551.64 287.58 L552.00 287.94 L552.36 288.16 L552.72 286.08 L553.08 287.49 L553.44 288.31 L553.50 287.28 L553.80 287.29 L554.16 285.06 L554.52 282.20 L554.88 280.35 L555.20 277.66 L555.24 278.99 L555.60 281.66 L555.96 281.36 L556.32 283.38 L556.68 283.45 L556.80 283.83 L557.04 282.24 L557.40 279.84 L557.76 280.81 L558.12 281.48 L558.48 280.02 L558.84 279.69 L559.20 280.81 L559.56 279.73 L559.92 278.38 L560.10 279.49 L560.28 279.04 L560.64 274.75 L561.00 272.06 L561.36 268.73 L561.72 263.04 L561.80 260.37 L562.08 255.75 L562.44 251.59 L562.80 247.01 L562.80 246.78 L563.16 248.67 L563.52 250.15 L563.80 252.00 L563.88 252.13 L564.24 254.51 L564.60 256.28 L564.60 256.03 L564.96 259.21 L565.32 261.35 L565.68 264.21 L566.04 268.06 L566.40 271.22 L566.76 275.78 L566.80 274.47 L567.12 274.10 L567.48 276.54 L567.84 277.88 L568.20 278.92 L568.56 281.43 L568.92 280.93 L569.00 279.60 L569.28 282.42 L569.64 283.11 L570.00 284.16 L570.36 282.56 L570.72 282.29 L571.08 284.14 L571.44 282.88 L571.80 283.83 L572.16 285.21 L572.52 284.26 L572.88 283.74 L573.24 284.21 L573.50 284.53 L573.60 283.81 L573.96 285.63 L574.32 287.62 L574.68 289.44 L575.04 287.96 L575.40 287.92 L575.70 289.81 L575.76 289.26 L576.12 288.46 L576.48 287.83 L576.84 287.16 L577.20 284.73 L577.56 282.75 L577.92 279.88 L578.28 280.55 L578.64 281.83 L579.00 279.27 L579.10 278.00 L579.36 277.49 L579.72 278.24 L580.08 277.15 L580.44 275.40 L580.80 275.91 L581.16 275.49 L581.52 274.56 L581.88 273.28 L582.24 274.01 L582.60 272.44 L582.96 270.47 L583.32 269.14 L583.50 269.26 L583.68 270.21 L584.04 270.07 L584.40 271.09 L584.76 271.49 L585.12 272.11 L585.48 271.69 L585.70 270.05 L585.84 267.97 L586.20 268.25 L586.56 267.75 L586.92 265.84 L587.28 264.11 L587.64 261.63 L588.00 259.61 L588.00 259.85 L588.36 260.56 L588.72 258.78 L589.08 256.28 L589.44 254.49 L589.80 254.90 L590.16 255.54 L590.20 254.54 L590.52 255.33 L590.88 259.01 L591.24 261.44 L591.60 262.73 L591.96 264.34 L592.32 266.27 L592.40 266.25 L592.68 266.95 L593.04 267.76 L593.40 270.73 L593.76 272.39 L594.12 273.97 L594.48 272.85 L594.70 275.37 L594.84 276.60 L595.20 276.73 L595.56 278.35 L595.92 280.02 L596.28 280.70 L596.64 280.75 L597.00 282.33 L597.36 284.92 L597.50 285.63 L597.72 284.18 L598.08 283.30 L598.44 283.22 L598.80 282.92 L599.16 280.43 L599.52 279.43 L599.88 279.94 L600.00 279.18 L600.24 278.26 L600.60 277.38 L600.96 275.59 L601.32 272.85 L601.40 272.95 L601.68 272.14 L602.04 273.48 L602.40 272.73 L602.76 273.53 L603.12 275.83 L603.48 275.82 L603.84 275.72 L604.00 276.52 L604.20 277.55 L604.56 277.57 L604.92 278.03 L605.28 278.80 L605.64 277.65 L606.00 277.50 L606.36 278.37 L606.72 280.30 L607.00 281.00 L607.08 280.79 L607.44 279.46 L607.80 279.22 L608.16 279.80 L608.52 279.28 L608.88 280.09 L609.24 279.91 L609.60 278.59 L609.96 278.73 L610.00 279.55 L610.32 281.46 L610.68 281.71 L611.04 278.87 L611.40 276.88 L611.76 275.02 L612.12 276.40 L612.48 276.31 L612.84 275.41 L613.00 276.00 L613.20 274.72 L613.56 275.56 L613.92 276.04 L614.28 275.56 L614.64 277.48 L615.00 277.69 L615.36 275.31 L615.72 275.25 L616.00 277.23 L616.08 276.72 L616.44 274.98 L616.80 275.00 L617.16 274.90 L617.52 274.67 L617.88 274.92 L618.24 274.68 L618.60 275.24 L618.96 274.47 L619.00 273.67 L619.32 273.83 L619.68 273.89 L620.04 272.53 L620.40 270.89 L620.76 272.01 L621.12 272.34 L621.48 273.03 L621.84 272.00 L622.00 271.80 L622.20 272.02 L622.56 272.48 L622.92 270.86 L623.28 269.71 L623.64 269.54 L624.00 268.80 L624.36 268.75 L624.72 268.52 L625.00 269.06 L625.08 269.85 L625.44 267.16 L625.80 265.75 L626.10 265.14 L626.16 265.34 L626.52 263.99 L626.88 264.21 L627.24 265.39 L627.60 266.14 L627.96 265.69 L628.32 265.00 L628.68 265.05 L629.04 266.82 L629.10 267.91 L629.40 267.51 L629.76 267.67 L630.12 268.00 L630.48 267.46 L630.84 268.25 L631.20 269.31 L631.56 270.41 L631.92 270.44 L632.10 270.21 L632.28 272.27 L632.64 272.64 L633.00 270.66 L633.36 270.26 L633.72 270.17 L634.08 269.52 L634.44 268.05 L634.80 269.41 L635.10 268.62 L635.16 269.41 L635.52 269.33 L635.88 269.23 L636.24 270.41 L636.60 271.69 L636.96 271.10 L637.10 271.24 L637.32 271.01 L637.68 270.97 L638.04 273.69 L638.40 274.02 L638.76 273.79 L639.12 274.33 L639.48 273.06 L639.84 274.12 L640.10 276.23 L640.20 275.09 L640.56 271.55 L640.92 270.55 L641.28 273.79 L641.64 276.74 L642.00 276.43 L642.36 276.93 L642.72 277.85 L643.08 277.43 L643.10 278.29 L643.44 278.83 L643.80 278.31 L644.16 277.41 L644.52 276.37 L644.88 276.50 L645.24 276.15 L645.60 277.72 L645.96 278.14 L646.10 274.46 L646.32 272.56 L646.68 274.41 L647.04 276.34 L647.40 277.58 L647.76 277.43 L648.12 275.72 L648.48 276.02 L648.84 277.60 L649.10 276.78 L649.20 277.85 L649.56 277.82 L649.92 278.62 L650.28 279.17 L650.64 279.48 L651.00 279.15 L651.36 277.96 L651.72 278.82 L652.08 279.31 L652.10 279.86 L652.44 279.61 L652.80 277.36 L653.16 275.53 L653.52 274.66 L653.88 274.63 L654.24 274.50 L654.60 273.08 L654.96 273.46 L655.10 272.73 L655.32 271.28 L655.68 270.13 L656.04 271.19 L656.40 270.99 L656.76 269.25 L657.10 271.31 L657.12 272.39 L657.48 271.58 L657.84 272.32 L658.20 274.34 L658.56 273.38 L658.92 271.40 L659.28 271.89 L659.64 272.42 L660.00 271.96 L660.10 270.83 L660.36 272.41 L660.72 271.72 L661.08 271.37 L661.44 271.09 L661.80 271.03 L662.16 269.38 L662.52 268.31 L662.88 269.24 L663.10 269.65 L663.24 268.47 L663.60 268.57 L663.96 267.03 L664.32 265.84 L664.68 266.22 L665.04 264.43 L665.20 264.70 L665.40 264.49 L665.76 265.09 L666.12 264.51 L666.48 265.72 L666.84 268.27 L667.20 268.68 L667.20 268.05 L667.56 268.71 L667.92 269.73 L668.28 269.10 L668.64 269.98 L669.00 271.75 L669.20 271.92 L669.36 271.73 L669.72 271.69 L670.08 271.09 L670.44 270.92 L670.80 271.92 L671.16 271.25 L671.20 270.74 L671.52 269.96 L671.88 269.41 L672.24 269.35 L672.60 270.30 L672.96 270.10 L673.20 272.02 L673.32 274.11 L673.68 274.77 L674.04 273.26 L674.40 271.11 L674.76 270.96 L675.12 270.17 L675.48 270.61 L675.84 270.05 L676.20 270.86 L676.20 272.42 L676.56 274.87 L676.92 278.11 L677.28 279.24 L677.60 281.28 L677.64 282.99 L678.00 283.18 L678.36 281.15 L678.72 280.48 L679.08 279.55 L679.44 280.70 L679.80 281.93 L680.16 281.12 L680.20 279.98 L680.52 279.13 L680.88 280.37 L681.24 280.89 L681.60 280.23 L681.96 278.78 L682.32 277.64 L682.68 279.18 L683.04 277.82 L683.20 277.18 L683.40 276.94 L683.76 274.72 L684.12 275.67 L684.48 276.28 L684.84 276.91 L685.00 277.54" stroke="#2a7ab8"/>
<path d="M468.00 424.81 L468.36 422.32 L468.40 423.17 L468.72 422.60 L469.08 421.15 L469.44 418.17 L469.80 415.11 L470.16 413.15 L470.40 413.49 L470.52 413.96 L470.88 411.16 L471.24 408.07 L471.60 407.38 L471.96 408.18 L472.32 405.74 L472.40 403.68 L472.68 404.13 L473.04 403.59 L473.40 403.59 L473.76 403.62 L474.12 403.64 L474.48 404.38 L474.84 403.82 L475.00 403.35 L475.20 404.21 L475.56 404.03 L475.92 402.13 L476.28 402.33 L476.64 402.23 L477.00 402.31 L477.36 401.81 L477.72 402.58 L478.08 402.75 L478.44 402.13 L478.80 401.43 L479.00 401.54 L479.16 400.97 L479.52 400.96 L479.88 401.92 L480.24 401.83 L480.60 403.40 L480.96 402.78 L481.32 400.71 L481.68 401.54 L482.04 401.26 L482.40 401.87 L482.76 401.55 L483.12 400.12 L483.48 401.10 L483.84 401.99 L484.20 402.42 L484.56 401.32 L484.92 401.84 L485.28 400.90 L485.64 400.84 L486.00 401.28 L486.36 402.99 L486.72 403.43 L487.08 404.32 L487.44 403.22 L487.80 402.79 L488.16 402.35 L488.52 401.08 L488.88 401.55 L489.24 402.48 L489.60 401.40 L489.96 401.29 L490.32 401.43 L490.68 401.61 L491.04 400.90 L491.40 400.88 L491.76 401.23 L491.90 400.90 L492.12 400.42 L492.48 400.99 L492.84 399.37 L493.20 398.62 L493.56 399.18 L493.92 400.78 L494.28 399.92 L494.64 398.74 L495.00 398.78 L495.36 399.64 L495.72 398.54 L496.08 398.35 L496.44 399.40 L496.80 398.43 L497.16 398.68 L497.52 399.01 L497.88 398.71 L498.24 399.28 L498.60 400.03 L498.96 398.35 L499.32 396.75 L499.68 396.37 L500.00 397.60 L500.04 398.16 L500.40 398.29 L500.76 397.61 L501.12 397.10 L501.48 396.75 L501.84 396.90 L502.20 397.27 L502.56 396.94 L502.92 397.62 L503.28 398.87 L503.64 397.24 L504.00 395.70 L504.36 397.59 L504.72 396.73 L505.08 395.46 L505.44 396.36 L505.80 395.71 L506.16 394.63 L506.52 394.12 L506.88 393.92 L507.24 394.95 L507.60 395.64 L507.96 394.68 L508.00 395.40 L508.32 395.94 L508.68 393.79 L509.04 393.92 L509.40 393.49 L509.76 392.48 L510.12 392.47 L510.48 393.48 L510.84 393.80 L511.20 393.09 L511.56 393.44 L511.92 394.01 L512.28 393.88 L512.64 394.05 L513.00 393.73 L513.36 393.93 L513.72 394.72 L514.08 393.72 L514.44 392.93 L514.80 392.69 L515.16 391.37 L515.52 391.65 L515.88 392.76 L516.24 393.14 L516.60 393.35 L516.96 391.58 L517.32 390.65 L517.68 393.06 L517.70 392.63 L518.04 390.79 L518.40 391.71 L518.76 390.31 L519.12 388.25 L519.48 388.67 L519.84 389.40 L520.20 390.32 L520.56 388.58 L520.92 388.03 L521.28 387.84 L521.64 387.27 L522.00 386.78 L522.36 387.67 L522.72 388.41 L523.08 387.45 L523.44 385.45 L523.80 384.84 L524.16 385.43 L524.52 384.76 L524.88 383.94 L525.24 383.81 L525.60 386.33 L525.96 385.59 L526.32 383.75 L526.68 384.79 L527.04 384.32 L527.40 381.16 L527.40 381.78 L527.76 382.62 L528.12 383.18 L528.48 382.50 L528.84 381.97 L529.20 382.48 L529.56 384.23 L529.92 384.04 L530.28 381.19 L530.64 380.87 L531.00 382.80 L531.36 380.32 L531.72 379.50 L532.08 380.12 L532.44 380.68 L532.80 380.90 L533.16 379.83 L533.52 378.61 L533.88 379.21 L534.24 379.69 L534.60 380.33 L534.96 378.37 L535.32 376.35 L535.68 376.77 L536.04 378.38 L536.40 376.53 L536.76 374.65 L537.10 375.57 L537.12 376.98 L537.48 377.38 L537.84 375.96 L538.20 376.69 L538.56 376.65 L538.92 375.19 L539.28 375.61 L539.64 377.41 L540.00 377.49 L540.00 376.48 L540.36 375.24 L540.72 374.71 L541.08 373.04 L541.44 371.71 L541.80 370.55 L542.16 370.38 L542.52 370.77 L542.88 371.81 L543.24 369.63 L543.60 369.38 L543.96 368.69 L544.32 366.98 L544.68 366.01 L545.00 363.31 L545.04 364.65 L545.40 364.89 L545.76 362.23 L546.12 362.92 L546.48 364.84 L546.84 363.85 L547.20 362.68 L547.56 362.88 L547.92 363.18 L548.10 364.17 L548.28 364.12 L548.64 363.29 L549.00 362.96 L549.36 363.94 L549.72 365.23 L550.08 364.91 L550.44 364.71 L550.80 363.76 L551.16 362.68 L551.20 363.31 L551.52 363.91 L551.88 362.69 L552.24 360.51 L552.60 359.24 L552.96 359.72 L553.32 359.03 L553.60 358.25 L553.68 358.40 L554.04 358.73 L554.40 358.89 L554.76 359.25 L555.12 359.30 L555.48 359.24 L555.84 358.23 L556.20 356.79 L556.56 356.60 L556.70 356.86 L556.92 356.20 L557.28 356.42 L557.64 356.10 L558.00 353.56 L558.36 352.41 L558.72 354.02 L559.08 353.52 L559.44 352.61 L559.80 351.30 L559.80 353.27 L560.16 352.47 L560.52 350.70 L560.88 349.80 L561.24 349.54 L561.30 349.29 L561.60 349.01 L561.96 349.16 L562.32 350.99 L562.40 350.59 L562.68 351.18 L562.90 351.16 L563.04 356.71 L563.40 376.35 L563.40 376.46 L563.76 389.66 L563.80 391.16 L564.12 382.22 L564.30 378.28 L564.48 373.01 L564.84 363.73 L565.20 355.43 L565.20 356.62 L565.56 356.02 L565.92 353.57 L566.28 352.03 L566.64 352.47 L566.80 351.50 L567.00 351.86 L567.36 349.85 L567.72 347.53 L568.08 346.42 L568.30 346.82 L568.44 347.11 L568.80 346.23 L569.16 347.01 L569.52 347.40 L569.88 344.92 L569.90 343.29 L570.24 342.32 L570.60 341.57 L570.96 341.46 L571.32 340.73 L571.50 340.37 L571.68 340.58 L572.04 337.82 L572.40 338.38 L572.76 340.94 L573.00 340.41 L573.12 339.69 L573.48 340.22 L573.84 341.41 L574.20 340.83 L574.56 339.91 L574.60 338.92 L574.92 339.00 L575.28 338.29 L575.64 337.65 L576.00 337.41 L576.36 337.51 L576.72 337.38 L577.08 337.29 L577.44 335.48 L577.70 336.21 L577.80 337.92 L578.16 337.10 L578.52 337.52 L578.88 337.79 L579.24 337.67 L579.60 336.40 L579.96 334.44 L580.32 334.70 L580.68 334.48 L580.80 333.64 L581.04 334.02 L581.40 333.41 L581.76 333.30 L582.12 334.82 L582.48 334.90 L582.84 334.06 L583.20 333.66 L583.56 333.95 L583.92 334.16 L584.28 334.24 L584.64 334.39 L584.70 334.39 L585.00 334.96 L585.36 335.13 L585.72 334.52 L586.08 333.33 L586.44 333.21 L586.60 333.96 L586.80 333.84 L587.16 333.18 L587.52 330.99 L587.88 331.16 L588.24 334.19 L588.60 335.67 L588.96 336.65 L589.32 336.37 L589.68 335.79 L590.04 335.15 L590.40 334.62 L590.76 336.08 L590.80 335.76 L591.12 336.30 L591.48 336.44 L591.84 336.66 L592.20 336.89 L592.56 335.84 L592.92 335.40 L593.28 335.19 L593.64 336.20 L594.00 337.72 L594.36 336.97 L594.72 337.75 L595.00 337.91 L595.08 337.71 L595.44 337.10 L595.80 335.75 L596.16 336.82 L596.52 337.64 L596.88 335.97 L597.24 335.59 L597.60 335.44 L597.96 335.68 L598.20 335.48 L598.32 336.82 L598.68 334.91 L599.04 333.74 L599.40 335.82 L599.76 335.47 L600.12 334.30 L600.48 333.40 L600.84 332.11 L601.20 331.77 L601.40 332.52 L601.56 332.97 L601.92 332.73 L602.28 331.74 L602.64 330.86 L603.00 331.24 L603.36 332.60 L603.72 332.68 L604.08 330.94 L604.44 330.71 L604.80 332.07 L605.16 332.02 L605.52 331.10 L605.60 329.44 L605.88 329.63 L606.24 329.99 L606.60 330.00 L606.96 329.33 L607.32 331.22 L607.68 331.24 L608.04 330.51 L608.40 329.33 L608.76 330.33 L609.12 331.04 L609.48 329.26 L609.84 330.22 L609.90 330.75 L610.20 329.95 L610.56 330.51 L610.92 330.31 L611.28 331.13 L611.64 330.78 L612.00 330.75 L612.36 331.91 L612.72 331.42 L613.00 330.64 L613.08 328.49 L613.44 328.33 L613.80 329.59 L614.16 329.46 L614.52 328.47 L614.88 328.01 L615.10 326.70 L615.24 326.97 L615.60 326.73 L615.96 327.63 L616.32 327.45 L616.68 327.44 L617.04 328.80 L617.30 329.94 L617.40 327.99 L617.76 328.25 L618.12 329.75 L618.48 329.80 L618.84 331.18 L619.20 330.60 L619.56 330.30 L619.92 331.20 L620.28 332.51 L620.40 331.95 L620.64 331.70 L621.00 331.29 L621.36 330.16 L621.72 331.46 L622.08 334.21 L622.44 334.70 L622.80 334.70 L623.16 334.82 L623.52 334.49 L623.60 334.66 L623.88 334.45 L624.24 335.30 L624.60 335.17 L624.96 335.87 L625.32 336.78 L625.68 336.92 L625.70 337.56 L626.04 337.33 L626.40 337.14 L626.76 336.79 L627.12 334.02 L627.48 333.37 L627.84 335.21 L628.20 336.22 L628.56 336.60 L628.90 335.44 L628.92 334.54 L629.28 333.21 L629.64 333.96 L630.00 333.62 L630.36 331.74 L630.72 331.35 L631.08 332.05 L631.44 331.41 L631.80 329.15 L632.16 330.83 L632.52 331.57 L632.88 331.14 L633.10 331.35 L633.24 331.19 L633.60 330.26 L633.96 330.92 L634.32 330.48 L634.68 329.93 L635.04 331.19 L635.40 331.81 L635.76 329.30 L636.12 328.14 L636.48 329.20 L636.84 331.94 L637.20 330.99 L637.40 330.21 L637.56 329.56 L637.92 328.92 L638.28 328.62 L638.64 330.49 L639.00 330.65 L639.36 328.92 L639.72 329.28 L640.08 330.18 L640.44 331.14 L640.80 332.00 L641.16 333.09 L641.52 333.59 L641.60 333.49 L641.88 332.86 L642.24 330.73 L642.60 331.06 L642.96 332.61 L643.32 332.25 L643.68 331.08 L644.04 329.11 L644.40 329.42 L644.76 331.82 L645.12 332.07 L645.48 331.29 L645.80 330.56 L645.84 329.92 L646.20 331.64 L646.56 333.06 L646.92 333.26 L647.28 331.76 L647.64 330.64 L648.00 330.36 L648.36 332.37 L648.72 332.75 L649.08 330.89 L649.44 330.87 L649.80 330.67 L650.10 329.28 L650.16 327.92 L650.52 329.74 L650.88 330.79 L651.24 329.41 L651.60 328.64 L651.96 328.03 L652.32 331.47 L652.68 332.12 L653.04 331.42 L653.40 330.94 L653.76 330.75 L654.12 331.18 L654.30 331.20 L654.48 331.30 L654.84 331.67 L655.20 332.44 L655.56 332.99 L655.92 331.21 L656.28 331.71 L656.64 331.33 L657.00 330.26 L657.36 329.96 L657.72 332.00 L658.08 331.59 L658.44 331.79 L658.50 332.55 L658.80 331.88 L659.16 332.51 L659.52 333.14 L659.88 334.11 L660.24 334.08 L660.60 333.01 L660.96 333.89 L661.32 333.65 L661.68 333.52 L662.04 333.67 L662.40 333.97 L662.76 332.94 L662.80 334.02 L663.12 334.82 L663.48 334.36 L663.84 335.13 L664.20 333.43 L664.56 333.14 L664.92 332.64 L665.28 332.03 L665.64 331.60 L666.00 332.05 L666.36 332.37 L666.72 332.25 L667.00 333.76 L667.08 333.94 L667.44 332.01 L667.80 333.13 L668.16 333.32 L668.52 333.91 L668.88 335.69 L669.24 334.95 L669.60 333.70 L669.96 332.56 L670.32 331.24 L670.68 332.86 L671.04 332.67 L671.20 333.06 L671.40 333.52 L671.76 334.60 L672.12 335.50 L672.48 334.86 L672.84 334.26 L673.20 333.06 L673.56 333.27 L673.92 333.02 L674.28 332.04 L674.64 333.73 L675.00 331.95 L675.36 331.39 L675.50 334.14 L675.72 334.59 L676.08 332.01 L676.44 332.33 L676.80 334.91 L677.16 332.49 L677.52 329.90 L677.88 331.32 L678.24 333.78 L678.60 333.30 L678.96 333.05 L679.32 333.30 L679.68 332.54 L679.70 330.99 L680.04 330.22 L680.40 331.40 L680.76 331.02 L681.12 332.24 L681.48 334.06 L681.84 333.44 L682.20 332.71 L682.56 332.90 L682.90 333.72 L682.92 333.39 L683.28 331.66 L683.64 332.76 L684.00 334.28 L684.36 333.24 L684.72 331.38 L685.00 331.10" stroke="#ff7f0e"/>
</g>
<rect x="251.0" y="30.4" width="84.40" height="17.80" rx="2" ry="2" fill="#fff" fill-opacity="0.8" stroke="#d8d8d8" stroke-width="0.9"/>
<path d="M254.9 38.5H276.5" stroke="#111111" stroke-width="1.2"/>
<text x="284.21" y="42.2" font-size="11" fill="#111" stroke="#111" stroke-width="0.18" textLength="46.11" lengthAdjust="spacingAndGlyphs" >No DASA</text>
<rect x="241.4" y="235.8" width="93.90" height="18.60" rx="2" ry="2" fill="#fff" fill-opacity="0.8" stroke="#d8d8d8" stroke-width="0.9"/>
<path d="M245.5 244.3H266.7" stroke="#0b8f8f" stroke-width="1.2"/>
<text x="274.94" y="248.3" font-size="11" fill="#111" stroke="#111" stroke-width="0.18" textLength="55.37" lengthAdjust="spacingAndGlyphs" >With DASA</text>
<rect x="624.4" y="175.5" width="52.60" height="28.50" rx="2" ry="2" fill="#fff" fill-opacity="0.8" stroke="#d8d8d8" stroke-width="0.9"/>
<path d="M627.3 183.1H645.7" stroke="#8fd68f" stroke-width="1.5"/>
<path d="M627.3 195.6H645.7" stroke="#b45ad0" stroke-width="1.3"/>
<text x="652.57" y="186" font-size="9.2" fill="#2a2a2a" stroke="#2a2a2a" stroke-width="0.1" textLength="22.07" lengthAdjust="spacingAndGlyphs" >Set 1</text>
<text x="652.57" y="198.7" font-size="9.2" fill="#2a2a2a" stroke="#2a2a2a" stroke-width="0.1" textLength="22.42" lengthAdjust="spacingAndGlyphs" >Set 5</text>
<rect x="414.5" y="241.5" width="105.80" height="36.80" rx="2" ry="2" fill="#fff" fill-opacity="0.8" stroke="#d8d8d8" stroke-width="0.9"/>
<path d="M418.1 250.6H440.6" stroke="#8bbbe0" stroke-width="1.3"/>
<path d="M418.1 267.4H440.6" stroke="#ffbb85" stroke-width="1.3"/>
<text x="448.55" y="254.8" font-size="11.3" fill="#111" stroke="#111" stroke-width="0.18" textLength="61.25" lengthAdjust="spacingAndGlyphs" >3.7 mW/cm</text>
<text x="510.22" y="250.4" font-size="7.6" fill="#111" stroke="#111" stroke-width="0.18" textLength="4.28" lengthAdjust="spacingAndGlyphs" >2</text>
<text x="448.08" y="271.6" font-size="11.3" fill="#111" stroke="#111" stroke-width="0.18" textLength="61.72" lengthAdjust="spacingAndGlyphs" >1.9 mW/cm</text>
<text x="510.22" y="267.2" font-size="7.6" fill="#111" stroke="#111" stroke-width="0.18" textLength="4.28" lengthAdjust="spacingAndGlyphs" >2</text>
<rect x="432.6" y="24.7" width="14.8" height="21.5" fill="#fff" stroke="#1c1c1c" stroke-width="1.15"/>
<rect x="434.7" y="26.6" width="2.1" height="17.4" fill="#a2a2a2"/>
<path d="M433.7 26.4H435.3V44.0H440.9V26.4H443.0V44.0H446.3V26.4" stroke="#4a4a4a" stroke-width="0.8" fill="none"/>
<text x="421.32" y="28.6" font-size="5.6" fill="#222" stroke="#222" stroke-width="0.08" textLength="9.88" lengthAdjust="spacingAndGlyphs" >0.4</text>
<text x="421.32" y="45.9" font-size="5.6" fill="#222" stroke="#222" stroke-width="0.08" textLength="9.71" lengthAdjust="spacingAndGlyphs" >0.1</text>
<text transform="translate(419.9,47.2) rotate(-90)" x="-0.42" y="0" font-size="5.6" fill="#7a7a7a" stroke="#7a7a7a" stroke-width="0.08" textLength="23.34" lengthAdjust="spacingAndGlyphs">mW/cm²</text>
<path d="M581.1 356.6 L608.1 338.8 L678.6 362.5 L678.6 388.5 L654.5 411.7 L580.9 383.7Z" fill="#a6c4d4" />
<path d="M580.9 374.9 L654.5 402.4 L654.5 411.7 L580.9 383.7Z" fill="#b7c4d5" />
<path d="M654.5 402.4 L678.6 381.5 L678.6 388.5 L654.5 411.7Z" fill="#a9b6ca" />
<path d="M581.1 356.6 L654.5 378.5 L654.5 402.4 L580.9 374.9Z" fill="#9bcad8" />
<path d="M654.5 378.5 L678.6 362.5 L678.6 381.5 L654.5 402.4Z" fill="#7abad7" />
<path d="M654.5 378.5 L678.6 362.5 L678.6 374.0 L661.4 374.0Z" fill="#7fd3da" />
<path d="M581.1 356.6 L608.1 338.8 L678.6 362.5 L654.5 378.5Z" fill="#8adbdc" />
<path d="M600.5 354.2 L678.6 376.6 L678.6 381.0 L657.5 381.5 L609.5 366.5 L599.0 364.6 L598.5 361.0Z" fill="#7fa8d8" />
<path d="M654.5 378.5 L678.6 362.5 L678.6 376.6 L660.0 371.7Z" fill="#80d4da" />
<path d="M581.1 356.6 L608.1 338.8 L608.1 356.4 L599.2 362.2 L581.1 373.0Z" fill="#ade9e3" />
<path d="M611.3 357.4V349.4L661.7 366.6V378.5" stroke="#34509a" stroke-width="0.5" fill="none"/>
<circle cx="642.1" cy="360.7" r="1.9" fill="none" stroke="#34509a" stroke-width="0.5"/>
<path d="M630.4 356.3l1.8-1.4M630.4 356.3l1.8 1.2M632.2 354.6v3.2" stroke="#34509a" stroke-width="0.45" fill="none"/>
<path d="M609.2 364.6 L631.4 372.4 L631.4 375.6 L609.2 367.6Z" fill="#ee9c56" />
<path d="M609.2 364.8L631.4 372.6" stroke="#c8461a" stroke-width="1.3"/>
<path d="M631.4 372.4 L656.4 381.2 L656.4 384.4 L631.4 375.6Z" fill="#3a98cc" />
<path d="M631.4 372.6L656.4 381.4" stroke="#1a3c9c" stroke-width="1.4"/>
<path d="M594.6 369.6 L603.3 372.6 L603.4 375.3 L594.9 372.4Z" fill="#e2b23e" />
<path d="M603.3 372.6 L609.3 366.0 L609.5 368.4 L603.4 375.3Z" fill="#dcaa3a" />
<path d="M594.6 369.6 L601.0 364.4 L609.3 366.0 L603.3 372.6Z" fill="#efc45c" />
<path d="M606.5 360.7 L611.1 356.9 L617.8 359.5 L613.7 364.2Z" fill="#eca21a" />
<path d="M613.7 364.2 L617.8 359.5 L617.9 361.0 L613.8 365.6Z" fill="#d88a14" />
<path d="M601.6 361.3 L603.9 360.1 L609.1 362.4 L608.8 365.0 L601.6 363.6Z" fill="#f3c81e" />
<path d="M646.3 389.5 L653.0 391.5 L653.3 395.0 L646.8 392.8Z" fill="#dcae3c" />
<path d="M653.0 391.5 L666.0 382.5 L666.2 384.6 L653.3 395.0Z" fill="#d4a63a" />
<path d="M646.3 389.5 L655.0 381.0 L661.4 377.2 L669.5 379.2 L666.0 382.5 L653.0 391.5Z" fill="#e2b94a" />
<path d="M654.7 382.1 L659.6 382.7 L660.8 385.0 L655.3 385.0Z" fill="#cfc852" />
<circle cx="655.6" cy="380.8" r="1.3" fill="#f39018"/>
<path d="M641.4 351L636 359.6l2.6-.5-5 10.3 7.7-12.2-2.6.4 2.7-6.6z" fill="#f5dc30" stroke="#e2b820" stroke-width="0.3"/>
</svg></body></html>
